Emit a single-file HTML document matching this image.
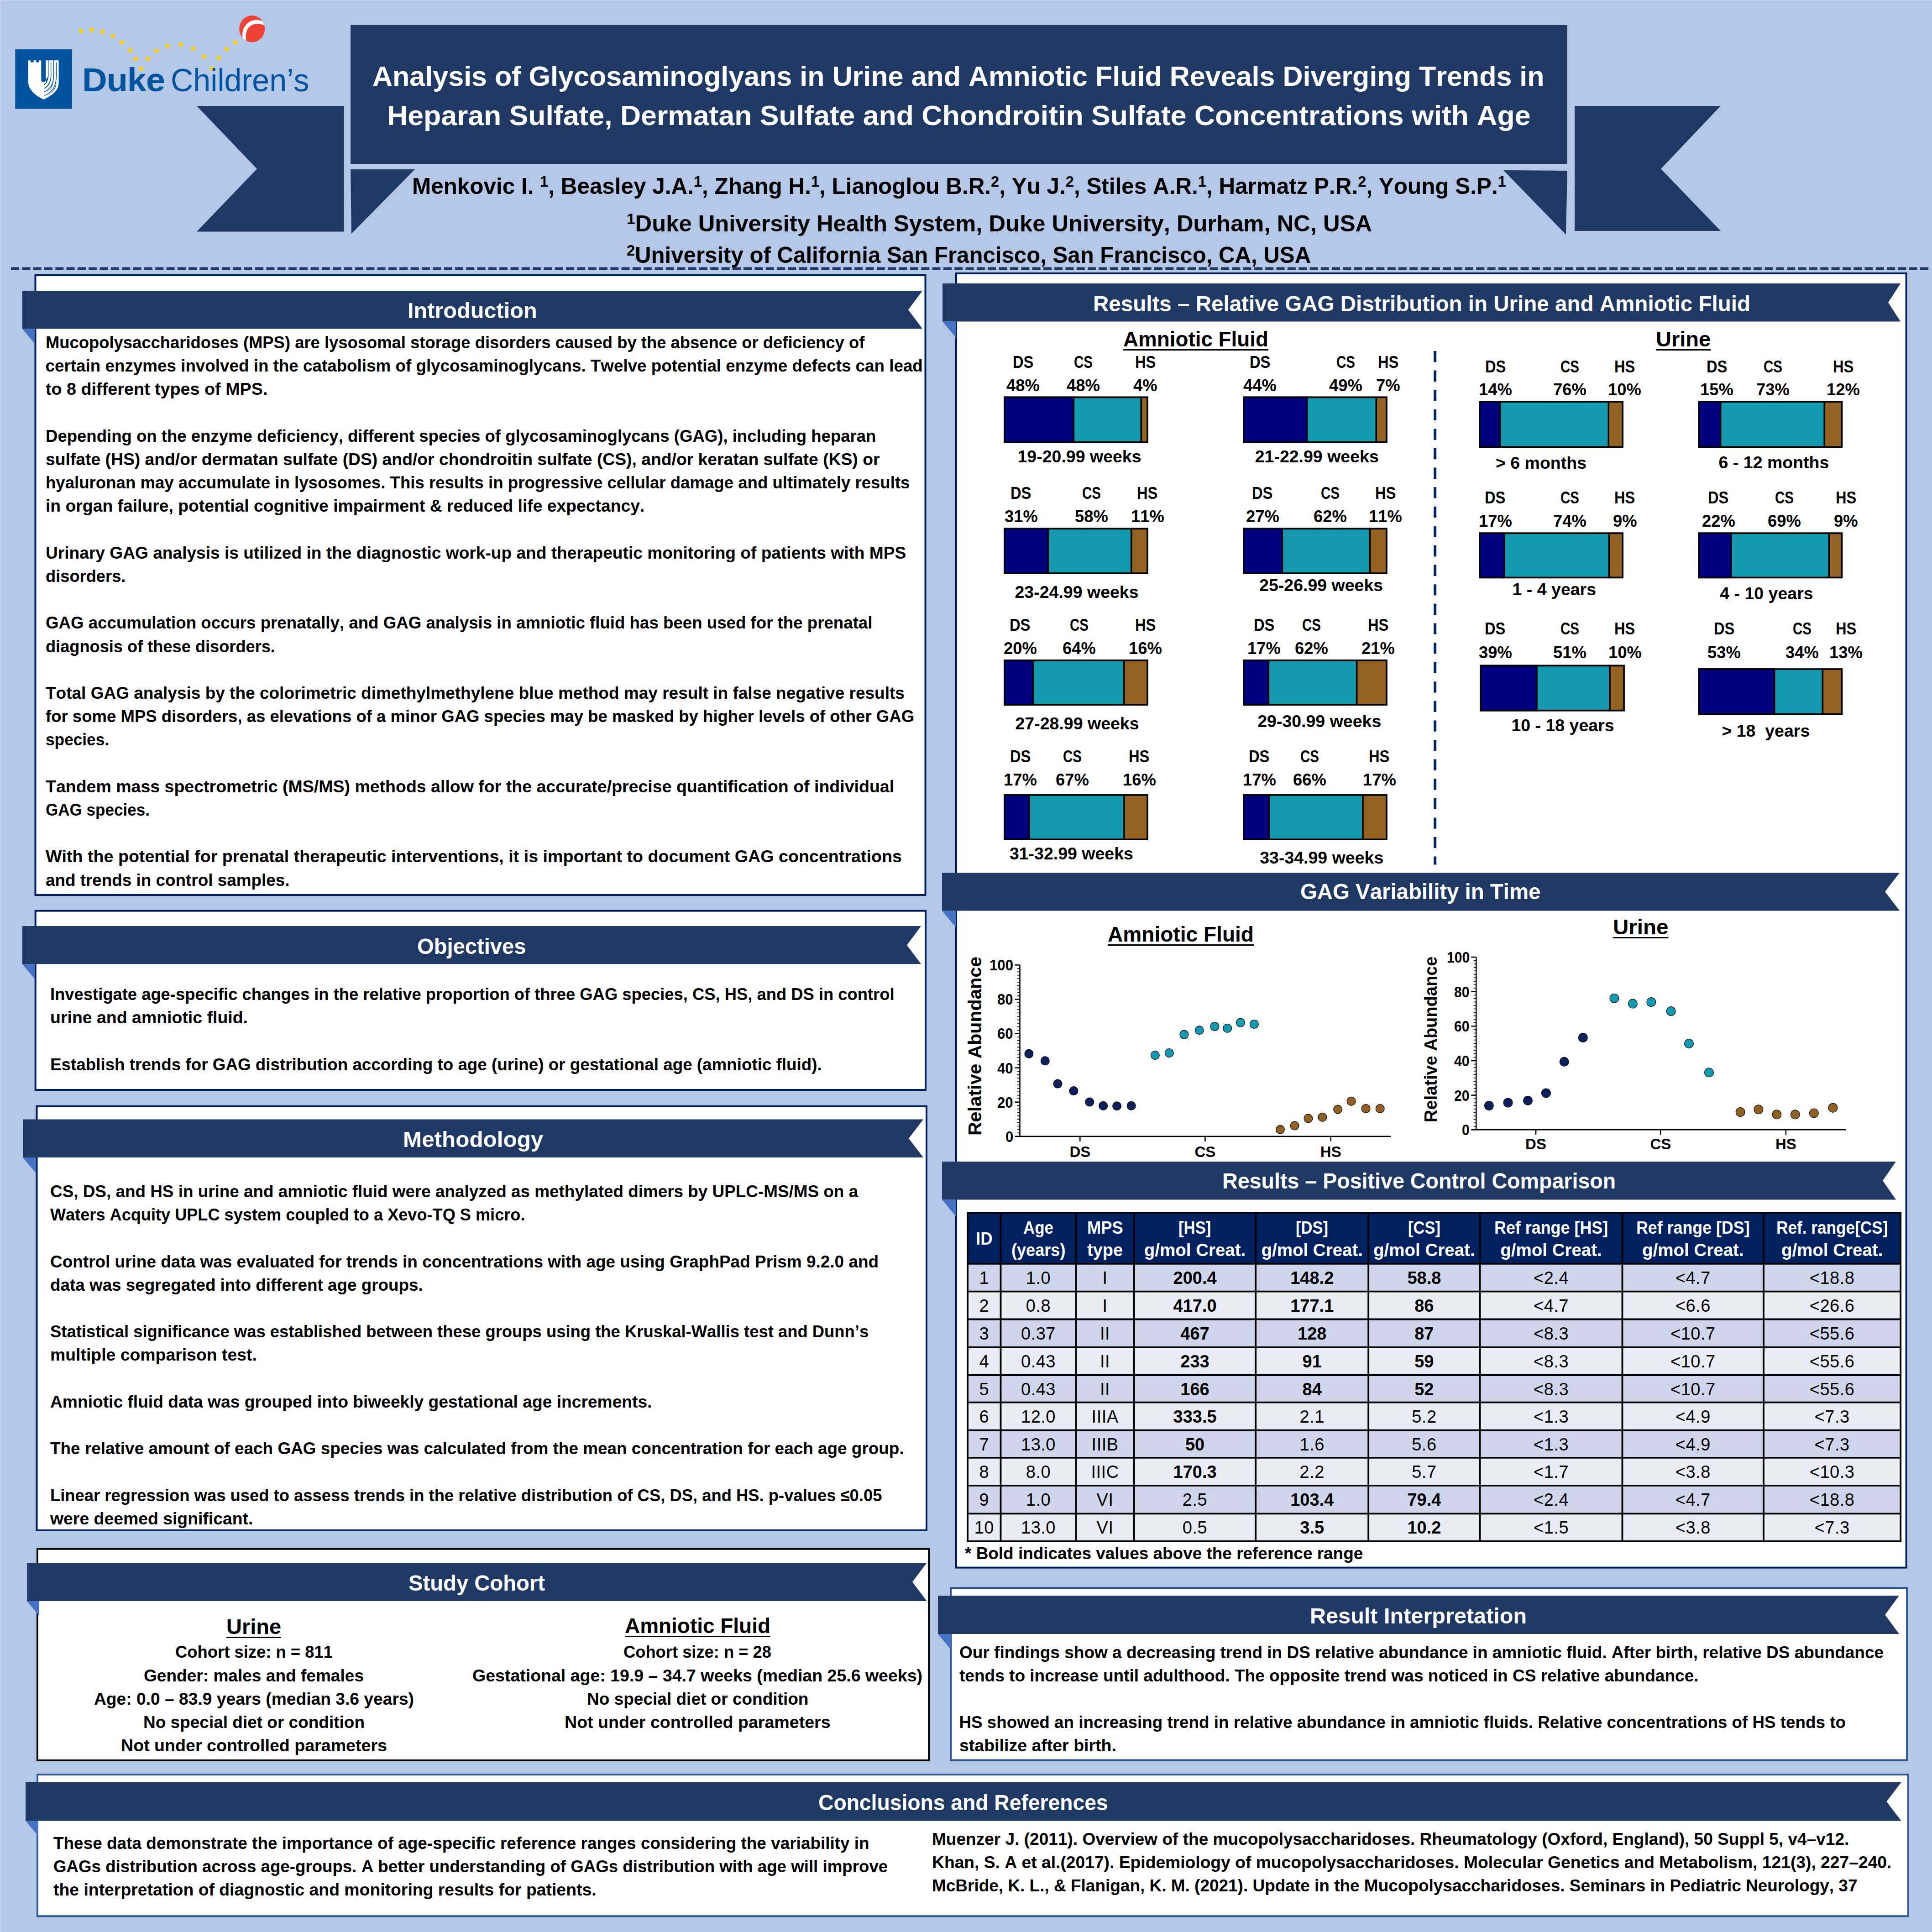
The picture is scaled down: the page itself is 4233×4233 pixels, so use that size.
<!DOCTYPE html>
<html><head><meta charset="utf-8"><title>Poster</title><style>
html,body{margin:0;padding:0;width:4233px;height:4233px;overflow:hidden;background:#b4c7e7}
body{position:relative;font-family:"Liberation Sans", sans-serif;font-kerning:none;font-variant-ligatures:none}
body>div{position:absolute;white-space:pre}
u{text-decoration-thickness:0.065em;text-underline-offset:0.12em}
</style></head><body>
<svg width="4233" height="4233" viewBox="0 0 4233 4233" style="position:absolute;left:0;top:0"><rect x="0.0" y="0.0" width="4233.0" height="1.0" fill="#d0dbf1"/><rect x="0.0" y="0.0" width="1.0" height="4233.0" fill="#d0dbf1"/><rect x="768.0" y="55.0" width="2666.0" height="304.0" fill="#203864"/><polygon points="431.0,232.0 753.5,232.0 753.5,507.5 431.0,507.5 563.0,370.0" fill="#203864"/><polygon points="768.0,371.0 909.0,371.0 770.0,512.0" fill="#203864"/><polygon points="3450.0,232.0 3770.0,232.0 3639.0,370.0 3770.0,506.0 3450.0,506.0" fill="#203864"/><polygon points="3294.0,373.0 3434.0,374.0 3431.0,514.0" fill="#203864"/><line x1="24" y1="588.3" x2="4225.3" y2="588.3" stroke="#203864" stroke-width="5.8" stroke-dasharray="18.1 6.22"/><rect x="77.5" y="603.0" width="1950.0" height="1358.0" fill="#fff" stroke="#002060" stroke-width="4.0"/><polygon points="48.8,637.1 2021.0,637.1 1990.0,678.7 2021.0,720.3 48.8,720.3" fill="#203864"/><polygon points="48.8,720.3 75.5,720.3 75.5,752.3" fill="#4472c4"/><rect x="77.7" y="1995.6" width="1950.3" height="392.4" fill="#fff" stroke="#002060" stroke-width="4.0"/><polygon points="48.8,2029.0 2018.0,2029.0 1987.0,2070.7 2018.0,2112.3 48.8,2112.3" fill="#203864"/><polygon points="48.8,2112.3 75.7,2112.3 75.7,2144.6" fill="#4472c4"/><rect x="80.5" y="2423.7" width="1949.5" height="929.3" fill="#fff" stroke="#002060" stroke-width="4.0"/><polygon points="50.0,2452.5 2023.0,2452.5 1991.0,2494.2 2023.0,2536.0 50.0,2536.0" fill="#203864"/><polygon points="50.0,2536.0 78.5,2536.0 78.5,2570.2" fill="#4472c4"/><rect x="81.8" y="3393.8" width="1953.3" height="463.0" fill="#fff" stroke="#000" stroke-width="3.7"/><polygon points="59.0,3424.0 2030.6,3424.0 1999.0,3466.0 2030.6,3508.0 59.0,3508.0" fill="#203864"/><polygon points="59.0,3508.0 86.0,3508.0 86.0,3540.4" fill="#4472c4"/><rect x="82.0" y="3888.0" width="4099.0" height="310.3" fill="#fff" stroke="#2f5597" stroke-width="4.0"/><polygon points="56.0,3905.0 4165.5,3905.0 4133.4,3947.2 4165.5,3989.5 56.0,3989.5" fill="#203864"/><polygon points="56.0,3989.5 83.5,3989.5 83.5,4022.5" fill="#4472c4"/><rect x="2095.0" y="599.0" width="2081.6" height="2835.6" fill="#fff" stroke="#002060" stroke-width="4.0"/><polygon points="2065.0,621.0 4164.0,621.0 4137.0,662.8 4164.0,704.5 2065.0,704.5" fill="#203864"/><polygon points="2065.0,704.5 2094.0,704.5 2094.0,739.3" fill="#4472c4"/><polygon points="2064.0,1912.0 4162.0,1912.0 4130.0,1953.8 4162.0,1995.5 2064.0,1995.5" fill="#203864"/><polygon points="2064.0,1995.5 2094.0,1995.5 2094.0,2031.5" fill="#4472c4"/><polygon points="2064.0,2545.0 4154.0,2545.0 4125.0,2586.8 4154.0,2628.5 2064.0,2628.5" fill="#203864"/><polygon points="2064.0,2628.5 2094.0,2628.5 2094.0,2664.5" fill="#4472c4"/><rect x="2083.3" y="3479.2" width="2094.7" height="377.3" fill="#fff" stroke="#2f5597" stroke-width="4.0"/><polygon points="2055.0,3496.0 4161.0,3496.0 4130.0,3538.0 4161.0,3580.0 2055.0,3580.0" fill="#203864"/><polygon points="2055.0,3580.0 2083.0,3580.0 2083.0,3613.6" fill="#4472c4"/><rect x="2199.0" y="868.6" width="153.4" height="101.9" fill="#000080"/><rect x="2352.4" y="868.6" width="147.9" height="101.9" fill="#1399b0"/><rect x="2500.3" y="868.6" width="15.5" height="101.9" fill="#946223"/><rect x="2200.8" y="870.4" width="313.2" height="98.3" fill="none" stroke="#000" stroke-width="3.6"/><line x1="2352.4" y1="868.6" x2="2352.4" y2="970.5" stroke="#000" stroke-width="3.6"/><line x1="2500.3" y1="868.6" x2="2500.3" y2="970.5" stroke="#000" stroke-width="3.6"/><rect x="2723.0" y="868.6" width="140.6" height="101.9" fill="#000080"/><rect x="2863.6" y="868.6" width="151.7" height="101.9" fill="#1399b0"/><rect x="3015.3" y="868.6" width="24.4" height="101.9" fill="#946223"/><rect x="2724.8" y="870.4" width="313.1" height="98.3" fill="none" stroke="#000" stroke-width="3.6"/><line x1="2863.6" y1="868.6" x2="2863.6" y2="970.5" stroke="#000" stroke-width="3.6"/><line x1="3015.3" y1="868.6" x2="3015.3" y2="970.5" stroke="#000" stroke-width="3.6"/><rect x="2199.0" y="1156.6" width="97.5" height="101.2" fill="#000080"/><rect x="2296.5" y="1156.6" width="182.2" height="101.2" fill="#1399b0"/><rect x="2478.7" y="1156.6" width="37.1" height="101.2" fill="#946223"/><rect x="2200.8" y="1158.4" width="313.2" height="97.6" fill="none" stroke="#000" stroke-width="3.6"/><line x1="2296.5" y1="1156.6" x2="2296.5" y2="1257.8" stroke="#000" stroke-width="3.6"/><line x1="2478.7" y1="1156.6" x2="2478.7" y2="1257.8" stroke="#000" stroke-width="3.6"/><rect x="2723.0" y="1156.6" width="86.3" height="101.2" fill="#000080"/><rect x="2809.3" y="1156.6" width="192.2" height="101.2" fill="#1399b0"/><rect x="3001.5" y="1156.6" width="38.2" height="101.2" fill="#946223"/><rect x="2724.8" y="1158.4" width="313.1" height="97.6" fill="none" stroke="#000" stroke-width="3.6"/><line x1="2809.3" y1="1156.6" x2="2809.3" y2="1257.8" stroke="#000" stroke-width="3.6"/><line x1="3001.5" y1="1156.6" x2="3001.5" y2="1257.8" stroke="#000" stroke-width="3.6"/><rect x="2199.0" y="1445.0" width="64.3" height="100.8" fill="#000080"/><rect x="2263.3" y="1445.0" width="199.3" height="100.8" fill="#1399b0"/><rect x="2462.6" y="1445.0" width="53.2" height="100.8" fill="#946223"/><rect x="2200.8" y="1446.8" width="313.2" height="97.2" fill="none" stroke="#000" stroke-width="3.6"/><line x1="2263.3" y1="1445.0" x2="2263.3" y2="1545.8" stroke="#000" stroke-width="3.6"/><line x1="2462.6" y1="1445.0" x2="2462.6" y2="1545.8" stroke="#000" stroke-width="3.6"/><rect x="2723.0" y="1445.0" width="56.4" height="100.8" fill="#000080"/><rect x="2779.4" y="1445.0" width="193.3" height="100.8" fill="#1399b0"/><rect x="2972.7" y="1445.0" width="67.0" height="100.8" fill="#946223"/><rect x="2724.8" y="1446.8" width="313.1" height="97.2" fill="none" stroke="#000" stroke-width="3.6"/><line x1="2779.4" y1="1445.0" x2="2779.4" y2="1545.8" stroke="#000" stroke-width="3.6"/><line x1="2972.7" y1="1445.0" x2="2972.7" y2="1545.8" stroke="#000" stroke-width="3.6"/><rect x="2199.0" y="1740.2" width="56.0" height="100.8" fill="#000080"/><rect x="2255.0" y="1740.2" width="208.0" height="100.8" fill="#1399b0"/><rect x="2463.0" y="1740.2" width="52.8" height="100.8" fill="#946223"/><rect x="2200.8" y="1742.0" width="313.2" height="97.2" fill="none" stroke="#000" stroke-width="3.6"/><line x1="2255.0" y1="1740.2" x2="2255.0" y2="1841.0" stroke="#000" stroke-width="3.6"/><line x1="2463.0" y1="1740.2" x2="2463.0" y2="1841.0" stroke="#000" stroke-width="3.6"/><rect x="2723.0" y="1740.2" width="57.5" height="100.8" fill="#000080"/><rect x="2780.5" y="1740.2" width="205.5" height="100.8" fill="#1399b0"/><rect x="2986.0" y="1740.2" width="53.7" height="100.8" fill="#946223"/><rect x="2724.8" y="1742.0" width="313.1" height="97.2" fill="none" stroke="#000" stroke-width="3.6"/><line x1="2780.5" y1="1740.2" x2="2780.5" y2="1841.0" stroke="#000" stroke-width="3.6"/><line x1="2986.0" y1="1740.2" x2="2986.0" y2="1841.0" stroke="#000" stroke-width="3.6"/><rect x="3240.2" y="878.5" width="46.0" height="102.5" fill="#000080"/><rect x="3286.2" y="878.5" width="238.1" height="102.5" fill="#1399b0"/><rect x="3524.3" y="878.5" width="32.7" height="102.5" fill="#946223"/><rect x="3242.0" y="880.3" width="313.2" height="98.9" fill="none" stroke="#000" stroke-width="3.6"/><line x1="3286.2" y1="878.5" x2="3286.2" y2="981.0" stroke="#000" stroke-width="3.6"/><line x1="3524.3" y1="878.5" x2="3524.3" y2="981.0" stroke="#000" stroke-width="3.6"/><rect x="3720.4" y="878.5" width="49.3" height="102.5" fill="#000080"/><rect x="3769.7" y="878.5" width="227.6" height="102.5" fill="#1399b0"/><rect x="3997.3" y="878.5" width="39.9" height="102.5" fill="#946223"/><rect x="3722.2" y="880.3" width="313.2" height="98.9" fill="none" stroke="#000" stroke-width="3.6"/><line x1="3769.7" y1="878.5" x2="3769.7" y2="981.0" stroke="#000" stroke-width="3.6"/><line x1="3997.3" y1="878.5" x2="3997.3" y2="981.0" stroke="#000" stroke-width="3.6"/><rect x="3240.2" y="1166.5" width="55.8" height="100.7" fill="#000080"/><rect x="3296.0" y="1166.5" width="229.4" height="100.7" fill="#1399b0"/><rect x="3525.4" y="1166.5" width="31.6" height="100.7" fill="#946223"/><rect x="3242.0" y="1168.3" width="313.2" height="97.1" fill="none" stroke="#000" stroke-width="3.6"/><line x1="3296.0" y1="1166.5" x2="3296.0" y2="1267.2" stroke="#000" stroke-width="3.6"/><line x1="3525.4" y1="1166.5" x2="3525.4" y2="1267.2" stroke="#000" stroke-width="3.6"/><rect x="3720.4" y="1166.5" width="72.6" height="100.7" fill="#000080"/><rect x="3793.0" y="1166.5" width="214.3" height="100.7" fill="#1399b0"/><rect x="4007.3" y="1166.5" width="29.9" height="100.7" fill="#946223"/><rect x="3722.2" y="1168.3" width="313.2" height="97.1" fill="none" stroke="#000" stroke-width="3.6"/><line x1="3793.0" y1="1166.5" x2="3793.0" y2="1267.2" stroke="#000" stroke-width="3.6"/><line x1="4007.3" y1="1166.5" x2="4007.3" y2="1267.2" stroke="#000" stroke-width="3.6"/><rect x="3242.4" y="1456.6" width="124.6" height="101.9" fill="#000080"/><rect x="3367.0" y="1456.6" width="160.0" height="101.9" fill="#1399b0"/><rect x="3527.0" y="1456.6" width="32.8" height="101.9" fill="#946223"/><rect x="3244.2" y="1458.4" width="313.8" height="98.3" fill="none" stroke="#000" stroke-width="3.6"/><line x1="3367.0" y1="1456.6" x2="3367.0" y2="1558.5" stroke="#000" stroke-width="3.6"/><line x1="3527.0" y1="1456.6" x2="3527.0" y2="1558.5" stroke="#000" stroke-width="3.6"/><rect x="3720.4" y="1464.3" width="167.2" height="101.9" fill="#000080"/><rect x="3887.6" y="1464.3" width="105.8" height="101.9" fill="#1399b0"/><rect x="3993.4" y="1464.3" width="43.8" height="101.9" fill="#946223"/><rect x="3722.2" y="1466.1" width="313.2" height="98.3" fill="none" stroke="#000" stroke-width="3.6"/><line x1="3887.6" y1="1464.3" x2="3887.6" y2="1566.2" stroke="#000" stroke-width="3.6"/><line x1="3993.4" y1="1464.3" x2="3993.4" y2="1566.2" stroke="#000" stroke-width="3.6"/><line x1="3144.2" y1="769" x2="3144.2" y2="1894.4" stroke="#002060" stroke-width="5.9" stroke-dasharray="24.3 18.3"/><line x1="2234.5" y1="2114.3" x2="2234.5" y2="2491.1" stroke="#000" stroke-width="2.6"/><line x1="2233.2" y1="2489.8" x2="3047.5" y2="2489.8" stroke="#000" stroke-width="2.6"/><line x1="2223.5" y1="2489.8" x2="2234.5" y2="2489.8" stroke="#000" stroke-width="2.6"/><line x1="2229.0" y1="2482.3" x2="2234.5" y2="2482.3" stroke="#000" stroke-width="1.6"/><line x1="2229.0" y1="2474.8" x2="2234.5" y2="2474.8" stroke="#000" stroke-width="1.6"/><line x1="2229.0" y1="2467.3" x2="2234.5" y2="2467.3" stroke="#000" stroke-width="1.6"/><line x1="2229.0" y1="2459.8" x2="2234.5" y2="2459.8" stroke="#000" stroke-width="1.6"/><line x1="2229.0" y1="2452.2" x2="2234.5" y2="2452.2" stroke="#000" stroke-width="1.6"/><line x1="2229.0" y1="2444.7" x2="2234.5" y2="2444.7" stroke="#000" stroke-width="1.6"/><line x1="2229.0" y1="2437.2" x2="2234.5" y2="2437.2" stroke="#000" stroke-width="1.6"/><line x1="2229.0" y1="2429.7" x2="2234.5" y2="2429.7" stroke="#000" stroke-width="1.6"/><line x1="2229.0" y1="2422.2" x2="2234.5" y2="2422.2" stroke="#000" stroke-width="1.6"/><line x1="2223.5" y1="2414.7" x2="2234.5" y2="2414.7" stroke="#000" stroke-width="2.6"/><line x1="2229.0" y1="2407.2" x2="2234.5" y2="2407.2" stroke="#000" stroke-width="1.6"/><line x1="2229.0" y1="2399.7" x2="2234.5" y2="2399.7" stroke="#000" stroke-width="1.6"/><line x1="2229.0" y1="2392.2" x2="2234.5" y2="2392.2" stroke="#000" stroke-width="1.6"/><line x1="2229.0" y1="2384.7" x2="2234.5" y2="2384.7" stroke="#000" stroke-width="1.6"/><line x1="2229.0" y1="2377.2" x2="2234.5" y2="2377.2" stroke="#000" stroke-width="1.6"/><line x1="2229.0" y1="2369.6" x2="2234.5" y2="2369.6" stroke="#000" stroke-width="1.6"/><line x1="2229.0" y1="2362.1" x2="2234.5" y2="2362.1" stroke="#000" stroke-width="1.6"/><line x1="2229.0" y1="2354.6" x2="2234.5" y2="2354.6" stroke="#000" stroke-width="1.6"/><line x1="2229.0" y1="2347.1" x2="2234.5" y2="2347.1" stroke="#000" stroke-width="1.6"/><line x1="2223.5" y1="2339.6" x2="2234.5" y2="2339.6" stroke="#000" stroke-width="2.6"/><line x1="2229.0" y1="2332.1" x2="2234.5" y2="2332.1" stroke="#000" stroke-width="1.6"/><line x1="2229.0" y1="2324.6" x2="2234.5" y2="2324.6" stroke="#000" stroke-width="1.6"/><line x1="2229.0" y1="2317.1" x2="2234.5" y2="2317.1" stroke="#000" stroke-width="1.6"/><line x1="2229.0" y1="2309.6" x2="2234.5" y2="2309.6" stroke="#000" stroke-width="1.6"/><line x1="2229.0" y1="2302.1" x2="2234.5" y2="2302.1" stroke="#000" stroke-width="1.6"/><line x1="2229.0" y1="2294.5" x2="2234.5" y2="2294.5" stroke="#000" stroke-width="1.6"/><line x1="2229.0" y1="2287.0" x2="2234.5" y2="2287.0" stroke="#000" stroke-width="1.6"/><line x1="2229.0" y1="2279.5" x2="2234.5" y2="2279.5" stroke="#000" stroke-width="1.6"/><line x1="2229.0" y1="2272.0" x2="2234.5" y2="2272.0" stroke="#000" stroke-width="1.6"/><line x1="2223.5" y1="2264.5" x2="2234.5" y2="2264.5" stroke="#000" stroke-width="2.6"/><line x1="2229.0" y1="2257.0" x2="2234.5" y2="2257.0" stroke="#000" stroke-width="1.6"/><line x1="2229.0" y1="2249.5" x2="2234.5" y2="2249.5" stroke="#000" stroke-width="1.6"/><line x1="2229.0" y1="2242.0" x2="2234.5" y2="2242.0" stroke="#000" stroke-width="1.6"/><line x1="2229.0" y1="2234.5" x2="2234.5" y2="2234.5" stroke="#000" stroke-width="1.6"/><line x1="2229.0" y1="2227.0" x2="2234.5" y2="2227.0" stroke="#000" stroke-width="1.6"/><line x1="2229.0" y1="2219.4" x2="2234.5" y2="2219.4" stroke="#000" stroke-width="1.6"/><line x1="2229.0" y1="2211.9" x2="2234.5" y2="2211.9" stroke="#000" stroke-width="1.6"/><line x1="2229.0" y1="2204.4" x2="2234.5" y2="2204.4" stroke="#000" stroke-width="1.6"/><line x1="2229.0" y1="2196.9" x2="2234.5" y2="2196.9" stroke="#000" stroke-width="1.6"/><line x1="2223.5" y1="2189.4" x2="2234.5" y2="2189.4" stroke="#000" stroke-width="2.6"/><line x1="2229.0" y1="2181.9" x2="2234.5" y2="2181.9" stroke="#000" stroke-width="1.6"/><line x1="2229.0" y1="2174.4" x2="2234.5" y2="2174.4" stroke="#000" stroke-width="1.6"/><line x1="2229.0" y1="2166.9" x2="2234.5" y2="2166.9" stroke="#000" stroke-width="1.6"/><line x1="2229.0" y1="2159.4" x2="2234.5" y2="2159.4" stroke="#000" stroke-width="1.6"/><line x1="2229.0" y1="2151.9" x2="2234.5" y2="2151.9" stroke="#000" stroke-width="1.6"/><line x1="2229.0" y1="2144.3" x2="2234.5" y2="2144.3" stroke="#000" stroke-width="1.6"/><line x1="2229.0" y1="2136.8" x2="2234.5" y2="2136.8" stroke="#000" stroke-width="1.6"/><line x1="2229.0" y1="2129.3" x2="2234.5" y2="2129.3" stroke="#000" stroke-width="1.6"/><line x1="2229.0" y1="2121.8" x2="2234.5" y2="2121.8" stroke="#000" stroke-width="1.6"/><line x1="2223.5" y1="2114.3" x2="2234.5" y2="2114.3" stroke="#000" stroke-width="2.6"/><line x1="2366.3" y1="2489.8" x2="2366.3" y2="2500.8" stroke="#000" stroke-width="2.6"/><line x1="2640.4" y1="2489.8" x2="2640.4" y2="2500.8" stroke="#000" stroke-width="2.6"/><line x1="2915.7" y1="2489.8" x2="2915.7" y2="2500.8" stroke="#000" stroke-width="2.6"/><circle cx="2254.4" cy="2308.7" r="9.4" fill="#0a1f5c" stroke="#000" stroke-width="1.2"/><circle cx="2289.8" cy="2324.2" r="9.4" fill="#0a1f5c" stroke="#000" stroke-width="1.2"/><circle cx="2317.5" cy="2374.6" r="9.4" fill="#0a1f5c" stroke="#000" stroke-width="1.2"/><circle cx="2352.4" cy="2390.1" r="9.4" fill="#0a1f5c" stroke="#000" stroke-width="1.2"/><circle cx="2387.3" cy="2414.5" r="9.4" fill="#0a1f5c" stroke="#000" stroke-width="1.2"/><circle cx="2417.2" cy="2422.8" r="9.4" fill="#0a1f5c" stroke="#000" stroke-width="1.2"/><circle cx="2447.1" cy="2423.3" r="9.4" fill="#0a1f5c" stroke="#000" stroke-width="1.2"/><circle cx="2478.7" cy="2422.8" r="9.4" fill="#0a1f5c" stroke="#000" stroke-width="1.2"/><circle cx="2530.8" cy="2312.0" r="9.4" fill="#1399b0" stroke="#000" stroke-width="1.2"/><circle cx="2561.8" cy="2307.0" r="9.4" fill="#1399b0" stroke="#000" stroke-width="1.2"/><circle cx="2594.4" cy="2266.6" r="9.4" fill="#1399b0" stroke="#000" stroke-width="1.2"/><circle cx="2627.7" cy="2257.2" r="9.4" fill="#1399b0" stroke="#000" stroke-width="1.2"/><circle cx="2661.5" cy="2248.9" r="9.4" fill="#1399b0" stroke="#000" stroke-width="1.2"/><circle cx="2689.2" cy="2252.8" r="9.4" fill="#1399b0" stroke="#000" stroke-width="1.2"/><circle cx="2717.9" cy="2240.6" r="9.4" fill="#1399b0" stroke="#000" stroke-width="1.2"/><circle cx="2747.9" cy="2243.9" r="9.4" fill="#1399b0" stroke="#000" stroke-width="1.2"/><circle cx="2804.9" cy="2474.8" r="9.4" fill="#8f6122" stroke="#000" stroke-width="1.2"/><circle cx="2836.5" cy="2466.5" r="9.4" fill="#8f6122" stroke="#000" stroke-width="1.2"/><circle cx="2866.4" cy="2450.5" r="9.4" fill="#8f6122" stroke="#000" stroke-width="1.2"/><circle cx="2897.4" cy="2447.7" r="9.4" fill="#8f6122" stroke="#000" stroke-width="1.2"/><circle cx="2931.2" cy="2430.5" r="9.4" fill="#8f6122" stroke="#000" stroke-width="1.2"/><circle cx="2960.5" cy="2412.8" r="9.4" fill="#8f6122" stroke="#000" stroke-width="1.2"/><circle cx="2992.6" cy="2428.9" r="9.4" fill="#8f6122" stroke="#000" stroke-width="1.2"/><circle cx="3023.7" cy="2428.9" r="9.4" fill="#8f6122" stroke="#000" stroke-width="1.2"/><line x1="3234.3" y1="2097.0" x2="3234.3" y2="2476.6" stroke="#000" stroke-width="2.6"/><line x1="3233.0" y1="2475.3" x2="4044.2" y2="2475.3" stroke="#000" stroke-width="2.6"/><line x1="3223.3" y1="2475.3" x2="3234.3" y2="2475.3" stroke="#000" stroke-width="2.6"/><line x1="3228.8" y1="2467.7" x2="3234.3" y2="2467.7" stroke="#000" stroke-width="1.6"/><line x1="3228.8" y1="2460.2" x2="3234.3" y2="2460.2" stroke="#000" stroke-width="1.6"/><line x1="3228.8" y1="2452.6" x2="3234.3" y2="2452.6" stroke="#000" stroke-width="1.6"/><line x1="3228.8" y1="2445.0" x2="3234.3" y2="2445.0" stroke="#000" stroke-width="1.6"/><line x1="3228.8" y1="2437.5" x2="3234.3" y2="2437.5" stroke="#000" stroke-width="1.6"/><line x1="3228.8" y1="2429.9" x2="3234.3" y2="2429.9" stroke="#000" stroke-width="1.6"/><line x1="3228.8" y1="2422.3" x2="3234.3" y2="2422.3" stroke="#000" stroke-width="1.6"/><line x1="3228.8" y1="2414.8" x2="3234.3" y2="2414.8" stroke="#000" stroke-width="1.6"/><line x1="3228.8" y1="2407.2" x2="3234.3" y2="2407.2" stroke="#000" stroke-width="1.6"/><line x1="3223.3" y1="2399.6" x2="3234.3" y2="2399.6" stroke="#000" stroke-width="2.6"/><line x1="3228.8" y1="2392.1" x2="3234.3" y2="2392.1" stroke="#000" stroke-width="1.6"/><line x1="3228.8" y1="2384.5" x2="3234.3" y2="2384.5" stroke="#000" stroke-width="1.6"/><line x1="3228.8" y1="2376.9" x2="3234.3" y2="2376.9" stroke="#000" stroke-width="1.6"/><line x1="3228.8" y1="2369.4" x2="3234.3" y2="2369.4" stroke="#000" stroke-width="1.6"/><line x1="3228.8" y1="2361.8" x2="3234.3" y2="2361.8" stroke="#000" stroke-width="1.6"/><line x1="3228.8" y1="2354.2" x2="3234.3" y2="2354.2" stroke="#000" stroke-width="1.6"/><line x1="3228.8" y1="2346.7" x2="3234.3" y2="2346.7" stroke="#000" stroke-width="1.6"/><line x1="3228.8" y1="2339.1" x2="3234.3" y2="2339.1" stroke="#000" stroke-width="1.6"/><line x1="3228.8" y1="2331.5" x2="3234.3" y2="2331.5" stroke="#000" stroke-width="1.6"/><line x1="3223.3" y1="2324.0" x2="3234.3" y2="2324.0" stroke="#000" stroke-width="2.6"/><line x1="3228.8" y1="2316.4" x2="3234.3" y2="2316.4" stroke="#000" stroke-width="1.6"/><line x1="3228.8" y1="2308.8" x2="3234.3" y2="2308.8" stroke="#000" stroke-width="1.6"/><line x1="3228.8" y1="2301.3" x2="3234.3" y2="2301.3" stroke="#000" stroke-width="1.6"/><line x1="3228.8" y1="2293.7" x2="3234.3" y2="2293.7" stroke="#000" stroke-width="1.6"/><line x1="3228.8" y1="2286.2" x2="3234.3" y2="2286.2" stroke="#000" stroke-width="1.6"/><line x1="3228.8" y1="2278.6" x2="3234.3" y2="2278.6" stroke="#000" stroke-width="1.6"/><line x1="3228.8" y1="2271.0" x2="3234.3" y2="2271.0" stroke="#000" stroke-width="1.6"/><line x1="3228.8" y1="2263.5" x2="3234.3" y2="2263.5" stroke="#000" stroke-width="1.6"/><line x1="3228.8" y1="2255.9" x2="3234.3" y2="2255.9" stroke="#000" stroke-width="1.6"/><line x1="3223.3" y1="2248.3" x2="3234.3" y2="2248.3" stroke="#000" stroke-width="2.6"/><line x1="3228.8" y1="2240.8" x2="3234.3" y2="2240.8" stroke="#000" stroke-width="1.6"/><line x1="3228.8" y1="2233.2" x2="3234.3" y2="2233.2" stroke="#000" stroke-width="1.6"/><line x1="3228.8" y1="2225.6" x2="3234.3" y2="2225.6" stroke="#000" stroke-width="1.6"/><line x1="3228.8" y1="2218.1" x2="3234.3" y2="2218.1" stroke="#000" stroke-width="1.6"/><line x1="3228.8" y1="2210.5" x2="3234.3" y2="2210.5" stroke="#000" stroke-width="1.6"/><line x1="3228.8" y1="2202.9" x2="3234.3" y2="2202.9" stroke="#000" stroke-width="1.6"/><line x1="3228.8" y1="2195.4" x2="3234.3" y2="2195.4" stroke="#000" stroke-width="1.6"/><line x1="3228.8" y1="2187.8" x2="3234.3" y2="2187.8" stroke="#000" stroke-width="1.6"/><line x1="3228.8" y1="2180.2" x2="3234.3" y2="2180.2" stroke="#000" stroke-width="1.6"/><line x1="3223.3" y1="2172.7" x2="3234.3" y2="2172.7" stroke="#000" stroke-width="2.6"/><line x1="3228.8" y1="2165.1" x2="3234.3" y2="2165.1" stroke="#000" stroke-width="1.6"/><line x1="3228.8" y1="2157.5" x2="3234.3" y2="2157.5" stroke="#000" stroke-width="1.6"/><line x1="3228.8" y1="2150.0" x2="3234.3" y2="2150.0" stroke="#000" stroke-width="1.6"/><line x1="3228.8" y1="2142.4" x2="3234.3" y2="2142.4" stroke="#000" stroke-width="1.6"/><line x1="3228.8" y1="2134.8" x2="3234.3" y2="2134.8" stroke="#000" stroke-width="1.6"/><line x1="3228.8" y1="2127.3" x2="3234.3" y2="2127.3" stroke="#000" stroke-width="1.6"/><line x1="3228.8" y1="2119.7" x2="3234.3" y2="2119.7" stroke="#000" stroke-width="1.6"/><line x1="3228.8" y1="2112.1" x2="3234.3" y2="2112.1" stroke="#000" stroke-width="1.6"/><line x1="3228.8" y1="2104.6" x2="3234.3" y2="2104.6" stroke="#000" stroke-width="1.6"/><line x1="3223.3" y1="2097.0" x2="3234.3" y2="2097.0" stroke="#000" stroke-width="2.6"/><line x1="3365.0" y1="2475.3" x2="3365.0" y2="2486.3" stroke="#000" stroke-width="2.6"/><line x1="3638.4" y1="2475.3" x2="3638.4" y2="2486.3" stroke="#000" stroke-width="2.6"/><line x1="3912.8" y1="2475.3" x2="3912.8" y2="2486.3" stroke="#000" stroke-width="2.6"/><circle cx="3262.4" cy="2422.5" r="9.9" fill="#0a1f5c" stroke="#000" stroke-width="1.2"/><circle cx="3304.1" cy="2416.0" r="9.9" fill="#0a1f5c" stroke="#000" stroke-width="1.2"/><circle cx="3347.5" cy="2411.3" r="9.9" fill="#0a1f5c" stroke="#000" stroke-width="1.2"/><circle cx="3387.4" cy="2394.9" r="9.9" fill="#0a1f5c" stroke="#000" stroke-width="1.2"/><circle cx="3427.2" cy="2326.3" r="9.9" fill="#0a1f5c" stroke="#000" stroke-width="1.2"/><circle cx="3468.3" cy="2273.5" r="9.9" fill="#0a1f5c" stroke="#000" stroke-width="1.2"/><circle cx="3536.9" cy="2187.3" r="9.9" fill="#1399b0" stroke="#000" stroke-width="1.2"/><circle cx="3577.4" cy="2199.1" r="9.9" fill="#1399b0" stroke="#000" stroke-width="1.2"/><circle cx="3617.8" cy="2195.5" r="9.9" fill="#1399b0" stroke="#000" stroke-width="1.2"/><circle cx="3661.2" cy="2215.5" r="9.9" fill="#1399b0" stroke="#000" stroke-width="1.2"/><circle cx="3700.5" cy="2286.4" r="9.9" fill="#1399b0" stroke="#000" stroke-width="1.2"/><circle cx="3744.5" cy="2349.8" r="9.9" fill="#1399b0" stroke="#000" stroke-width="1.2"/><circle cx="3813.1" cy="2436.6" r="9.9" fill="#8f6122" stroke="#000" stroke-width="1.2"/><circle cx="3853.0" cy="2430.7" r="9.9" fill="#8f6122" stroke="#000" stroke-width="1.2"/><circle cx="3892.9" cy="2441.8" r="9.9" fill="#8f6122" stroke="#000" stroke-width="1.2"/><circle cx="3933.3" cy="2441.8" r="9.9" fill="#8f6122" stroke="#000" stroke-width="1.2"/><circle cx="3974.4" cy="2438.9" r="9.9" fill="#8f6122" stroke="#000" stroke-width="1.2"/><circle cx="4016.0" cy="2427.2" r="9.9" fill="#8f6122" stroke="#000" stroke-width="1.2"/><rect x="2120.1" y="2657.0" width="2044.1" height="111.8" fill="#002060"/><rect x="2120.1" y="2768.8" width="2044.1" height="60.8" fill="#cfd5ea"/><rect x="2120.1" y="2829.6" width="2044.1" height="60.9" fill="#e9ebf5"/><rect x="2120.1" y="2890.5" width="2044.1" height="61.5" fill="#cfd5ea"/><rect x="2120.1" y="2952.0" width="2044.1" height="61.0" fill="#e9ebf5"/><rect x="2120.1" y="3013.0" width="2044.1" height="59.7" fill="#cfd5ea"/><rect x="2120.1" y="3072.7" width="2044.1" height="61.0" fill="#e9ebf5"/><rect x="2120.1" y="3133.7" width="2044.1" height="60.1" fill="#cfd5ea"/><rect x="2120.1" y="3193.8" width="2044.1" height="61.0" fill="#e9ebf5"/><rect x="2120.1" y="3254.8" width="2044.1" height="61.5" fill="#cfd5ea"/><rect x="2120.1" y="3316.3" width="2044.1" height="60.6" fill="#e9ebf5"/><line x1="2120.1" y1="2655.1" x2="2120.1" y2="3378.8" stroke="#000" stroke-width="3.8"/><line x1="2192.5" y1="2655.1" x2="2192.5" y2="3378.8" stroke="#000" stroke-width="3.8"/><line x1="2357.4" y1="2655.1" x2="2357.4" y2="3378.8" stroke="#000" stroke-width="3.8"/><line x1="2484.8" y1="2655.1" x2="2484.8" y2="3378.8" stroke="#000" stroke-width="3.8"/><line x1="2751.2" y1="2655.1" x2="2751.2" y2="3378.8" stroke="#000" stroke-width="3.8"/><line x1="2998.2" y1="2655.1" x2="2998.2" y2="3378.8" stroke="#000" stroke-width="3.8"/><line x1="3242.5" y1="2655.1" x2="3242.5" y2="3378.8" stroke="#000" stroke-width="3.8"/><line x1="3554.5" y1="2655.1" x2="3554.5" y2="3378.8" stroke="#000" stroke-width="3.8"/><line x1="3864.1" y1="2655.1" x2="3864.1" y2="3378.8" stroke="#000" stroke-width="3.8"/><line x1="4164.2" y1="2655.1" x2="4164.2" y2="3378.8" stroke="#000" stroke-width="3.8"/><line x1="2118.2" y1="2657.0" x2="4166.1" y2="2657.0" stroke="#000" stroke-width="3.8"/><line x1="2118.2" y1="2768.8" x2="4166.1" y2="2768.8" stroke="#000" stroke-width="3.8"/><line x1="2118.2" y1="2829.6" x2="4166.1" y2="2829.6" stroke="#000" stroke-width="3.8"/><line x1="2118.2" y1="2890.5" x2="4166.1" y2="2890.5" stroke="#000" stroke-width="3.8"/><line x1="2118.2" y1="2952.0" x2="4166.1" y2="2952.0" stroke="#000" stroke-width="3.8"/><line x1="2118.2" y1="3013.0" x2="4166.1" y2="3013.0" stroke="#000" stroke-width="3.8"/><line x1="2118.2" y1="3072.7" x2="4166.1" y2="3072.7" stroke="#000" stroke-width="3.8"/><line x1="2118.2" y1="3133.7" x2="4166.1" y2="3133.7" stroke="#000" stroke-width="3.8"/><line x1="2118.2" y1="3193.8" x2="4166.1" y2="3193.8" stroke="#000" stroke-width="3.8"/><line x1="2118.2" y1="3254.8" x2="4166.1" y2="3254.8" stroke="#000" stroke-width="3.8"/><line x1="2118.2" y1="3316.3" x2="4166.1" y2="3316.3" stroke="#000" stroke-width="3.8"/><line x1="2118.2" y1="3376.9" x2="4166.1" y2="3376.9" stroke="#000" stroke-width="3.8"/><rect x="33.3" y="108.1" width="124.4" height="130.4" fill="#00539f"/><path d="M61.8,132.3 L67.0,132.3 L67.0,136.4 L73.6,136.4 L73.6,132.3 L79.1,132.3 L79.1,136.4 L85.1,136.4 L85.1,132.3 L90.3,132.3 L90.3,174.3 Q90.3,179.6 95.2,179.6 Q100.1,179.6 100.1,174.3 L100.1,132.3 L128.6,132.3 L128.6,182.6 Q127.9,203.6 95.6,217.9 Q62.5,202.9 61.8,178.8 Z" fill="#fff"/><path d="M105.7,132.3 L105.7,167.6 Q105.0,177.7 96.3,186.7" fill="none" stroke="#00539f" stroke-width="1.4"/><path d="M111.7,136.4 L111.7,167.6 Q111.0,185.2 96.3,194.2" fill="none" stroke="#00539f" stroke-width="1.4"/><path d="M117.5,132.3 L117.5,167.6 Q116.7,192.7 96.3,201.7" fill="none" stroke="#00539f" stroke-width="1.4"/><path d="M123.5,136.4 L123.5,167.6 Q122.7,200.6 96.3,209.6" fill="none" stroke="#00539f" stroke-width="1.4"/><path d="M100.1,175.1 Q103.1,182.6 96.3,186.7 Q105.7,181.1 105.3,167.6 Z" fill="#00539f"/><path d="M110.6,171.3 Q109.8,188.6 97.1,194.2 Q111.7,189.3 111.3,167.6 Z" fill="#00539f"/><path d="M116.6,175.1 Q114.3,196.1 97.4,201.7 Q117.5,196.1 117.5,171.3 Z" fill="#00539f"/><path d="M122.6,182.6 Q119.6,203.6 97.4,209.6 Q123.5,203.6 123.5,178.8 Z" fill="#00539f"/><circle cx="177.3" cy="68.1" r="4.7" fill="#ffd200"/><circle cx="200.8" cy="65.6" r="4.7" fill="#ffd200"/><circle cx="224.3" cy="69.5" r="4.7" fill="#ffd200"/><circle cx="247.2" cy="78.7" r="4.7" fill="#ffd200"/><circle cx="267.3" cy="92.7" r="4.7" fill="#ffd200"/><circle cx="284.7" cy="110.0" r="4.7" fill="#ffd200"/><circle cx="297.5" cy="129.0" r="4.7" fill="#ffd200"/><circle cx="308.7" cy="150.2" r="4.7" fill="#ffd200"/><circle cx="323.8" cy="129.0" r="4.7" fill="#ffd200"/><circle cx="342.5" cy="111.1" r="4.7" fill="#ffd200"/><circle cx="366.8" cy="100.2" r="4.7" fill="#ffd200"/><circle cx="396.2" cy="97.7" r="4.7" fill="#ffd200"/><circle cx="423.3" cy="106.6" r="4.7" fill="#ffd200"/><circle cx="447.0" cy="124.0" r="4.7" fill="#ffd200"/><circle cx="464.7" cy="150.2" r="4.7" fill="#ffd200"/><circle cx="479.5" cy="126.5" r="4.7" fill="#ffd200"/><circle cx="496.8" cy="107.8" r="4.7" fill="#ffd200"/><circle cx="515.8" cy="92.9" r="4.7" fill="#ffd200"/><defs><clipPath id="ballclip"><ellipse cx="552.2" cy="63.3" rx="28" ry="29.3"/></clipPath></defs><ellipse cx="552.2" cy="63.3" rx="28" ry="29.3" fill="#ef4135"/><path d="M577.11,48.19 C563.52,38.48 540.62,44.30 532.66,64.88 C530.53,72.64 530.53,80.41 532.08,88.56 L540.23,94.77 C537.13,80.41 538.29,68.76 544.11,61.39 C551.88,51.29 567.41,49.74 580.99,56.34 Z" fill="#fff" clip-path="url(#ballclip)"/></svg>
<div style="left:816.0px;top:136.1px;font-size:61.50px;line-height:61.50px;font-weight:bold;color:#fff;;transform-origin:0 0;transform:scaleX(0.9925)">Analysis of Glycosaminoglyans in Urine and Amniotic Fluid Reveals Diverging Trends in</div>
<div style="left:848.0px;top:221.8px;font-size:61.50px;line-height:61.50px;font-weight:bold;color:#fff;;transform-origin:0 0;transform:scaleX(1.0170)">Heparan Sulfate, Dermatan Sulfate and Chondroitin Sulfate Concentrations with Age</div>
<div style="left:902.7px;top:383.4px;font-size:50.00px;line-height:50.00px;font-weight:bold;color:#000;;transform-origin:0 0;transform:scaleX(0.9883)">Menkovic I. <span style="font-size:0.66em;vertical-align:0.5em;line-height:0">1</span>, Beasley J.A.<span style="font-size:0.66em;vertical-align:0.5em;line-height:0">1</span>, Zhang H.<span style="font-size:0.66em;vertical-align:0.5em;line-height:0">1</span>, Lianoglou B.R.<span style="font-size:0.66em;vertical-align:0.5em;line-height:0">2</span>, Yu J.<span style="font-size:0.66em;vertical-align:0.5em;line-height:0">2</span>, Stiles A.R.<span style="font-size:0.66em;vertical-align:0.5em;line-height:0">1</span>, Harmatz P.R.<span style="font-size:0.66em;vertical-align:0.5em;line-height:0">2</span>, Young S.P.<span style="font-size:0.66em;vertical-align:0.5em;line-height:0">1</span></div>
<div style="left:1372.5px;top:464.5px;font-size:50.00px;line-height:50.00px;font-weight:bold;color:#000;;transform-origin:0 0;transform:scaleX(1.0140)"><span style="font-size:0.66em;vertical-align:0.5em;line-height:0">1</span>Duke University Health System, Duke University, Durham, NC, USA</div>
<div style="left:1372.5px;top:534.3px;font-size:50.00px;line-height:50.00px;font-weight:bold;color:#000;;transform-origin:0 0;transform:scaleX(0.9835)"><span style="font-size:0.66em;vertical-align:0.5em;line-height:0">2</span>University of California San Francisco, San Francisco, CA, USA</div>
<div style="left:180.0px;top:139.4px;font-size:72.00px;line-height:72.00px;font-weight:bold;color:#00539f;letter-spacing:-1px;transform-origin:0 0;transform:scaleX(1.0519)">Duke</div>
<div style="left:373.5px;top:140.2px;font-size:71.00px;line-height:71.00px;font-weight:normal;color:#00539f;;transform-origin:0 0;transform:scaleX(0.9614)">Children&#8217;s</div>
<div style="left:893.0px;top:656.8px;font-size:47.50px;line-height:47.50px;font-weight:bold;color:#fff;;transform-origin:0 0;transform:scaleX(1.0237)">Introduction</div>
<div style="left:914.0px;top:2049.6px;font-size:47.50px;line-height:47.50px;font-weight:bold;color:#fff;;transform-origin:0 0;transform:scaleX(0.9927)">Objectives</div>
<div style="left:882.7px;top:2472.8px;font-size:47.50px;line-height:47.50px;font-weight:bold;color:#fff;;transform-origin:0 0;transform:scaleX(1.0399)">Methodology</div>
<div style="left:895.0px;top:3445.3px;font-size:47.50px;line-height:47.50px;font-weight:bold;color:#fff;;transform-origin:0 0;transform:scaleX(0.9940)">Study Cohort</div>
<div style="left:1793.0px;top:3926.0px;font-size:47.50px;line-height:47.50px;font-weight:bold;color:#fff;;transform-origin:0 0;transform:scaleX(0.9733)">Conclusions and References</div>
<div style="left:2394.5px;top:641.8px;font-size:47.50px;line-height:47.50px;font-weight:bold;color:#fff;;transform-origin:0 0;transform:scaleX(1.0011)">Results &#8211; Relative GAG Distribution in Urine and Amniotic Fluid</div>
<div style="left:2849.2px;top:1930.1px;font-size:47.50px;line-height:47.50px;font-weight:bold;color:#fff;;transform-origin:0 0;transform:scaleX(0.9971)">GAG Variability in Time</div>
<div style="left:2677.5px;top:2563.5px;font-size:47.50px;line-height:47.50px;font-weight:bold;color:#fff;;transform-origin:0 0;transform:scaleX(0.9811)">Results &#8211; Positive Control Comparison</div>
<div style="left:2869.6px;top:3516.8px;font-size:47.50px;line-height:47.50px;font-weight:bold;color:#fff;;transform-origin:0 0;transform:scaleX(1.0230)">Result Interpretation</div>
<div style="left:99.6px;top:732.9px;font-size:36.80px;line-height:36.80px;font-weight:bold;color:#000;;transform-origin:0 0;transform:scaleX(0.9892)">Mucopolysaccharidoses (MPS) are lysosomal storage disorders caused by the absence or deficiency of</div>
<div style="left:99.6px;top:784.1px;font-size:36.80px;line-height:36.80px;font-weight:bold;color:#000;;">certain enzymes involved in the catabolism of glycosaminoglycans. Twelve potential enzyme defects can lead</div>
<div style="left:99.6px;top:835.3px;font-size:36.80px;line-height:36.80px;font-weight:bold;color:#000;;transform-origin:0 0;transform:scaleX(1.0255)">to 8 different types of MPS.</div>
<div style="left:99.6px;top:937.7px;font-size:36.80px;line-height:36.80px;font-weight:bold;color:#000;;transform-origin:0 0;transform:scaleX(0.9931)">Depending on the enzyme deficiency, different species of glycosaminoglycans (GAG), including heparan</div>
<div style="left:99.6px;top:988.9px;font-size:36.80px;line-height:36.80px;font-weight:bold;color:#000;;transform-origin:0 0;transform:scaleX(1.0134)">sulfate (HS) and/or dermatan sulfate (DS) and/or chondroitin sulfate (CS), and/or keratan sulfate (KS) or</div>
<div style="left:99.6px;top:1040.1px;font-size:36.80px;line-height:36.80px;font-weight:bold;color:#000;;transform-origin:0 0;transform:scaleX(0.9945)">hyaluronan may accumulate in lysosomes. This results in progressive cellular damage and ultimately results</div>
<div style="left:99.6px;top:1091.3px;font-size:36.80px;line-height:36.80px;font-weight:bold;color:#000;;transform-origin:0 0;transform:scaleX(1.0140)">in organ failure, potential cognitive impairment &amp; reduced life expectancy.</div>
<div style="left:99.6px;top:1193.7px;font-size:36.80px;line-height:36.80px;font-weight:bold;color:#000;;transform-origin:0 0;transform:scaleX(1.0089)">Urinary GAG analysis is utilized in the diagnostic work-up and therapeutic monitoring of patients with MPS</div>
<div style="left:99.6px;top:1244.9px;font-size:36.80px;line-height:36.80px;font-weight:bold;color:#000;;transform-origin:0 0;transform:scaleX(0.9858)">disorders.</div>
<div style="left:99.6px;top:1347.3px;font-size:36.80px;line-height:36.80px;font-weight:bold;color:#000;;transform-origin:0 0;transform:scaleX(0.9965)">GAG accumulation occurs prenatally, and GAG analysis in amniotic fluid has been used for the prenatal</div>
<div style="left:99.6px;top:1398.5px;font-size:36.80px;line-height:36.80px;font-weight:bold;color:#000;;transform-origin:0 0;transform:scaleX(0.9838)">diagnosis of these disorders.</div>
<div style="left:99.6px;top:1500.9px;font-size:36.80px;line-height:36.80px;font-weight:bold;color:#000;;transform-origin:0 0;transform:scaleX(1.0058)">Total GAG analysis by the colorimetric dimethylmethylene blue method may result in false negative results</div>
<div style="left:99.6px;top:1552.1px;font-size:36.80px;line-height:36.80px;font-weight:bold;color:#000;;transform-origin:0 0;transform:scaleX(0.9932)">for some MPS disorders, as elevations of a minor GAG species may be masked by higher levels of other GAG</div>
<div style="left:99.6px;top:1603.3px;font-size:36.80px;line-height:36.80px;font-weight:bold;color:#000;;transform-origin:0 0;transform:scaleX(0.9577)">species.</div>
<div style="left:99.6px;top:1705.7px;font-size:36.80px;line-height:36.80px;font-weight:bold;color:#000;;transform-origin:0 0;transform:scaleX(1.0193)">Tandem mass spectrometric (MS/MS) methods allow for the accurate/precise quantification of individual</div>
<div style="left:99.6px;top:1756.9px;font-size:36.80px;line-height:36.80px;font-weight:bold;color:#000;;transform-origin:0 0;transform:scaleX(0.9524)">GAG species.</div>
<div style="left:99.6px;top:1859.3px;font-size:36.80px;line-height:36.80px;font-weight:bold;color:#000;;transform-origin:0 0;transform:scaleX(1.0229)">With the potential for prenatal therapeutic interventions, it is important to document GAG concentrations</div>
<div style="left:99.6px;top:1910.5px;font-size:36.80px;line-height:36.80px;font-weight:bold;color:#000;;transform-origin:0 0;transform:scaleX(1.0014)">and trends in control samples.</div>
<div style="left:110.0px;top:2161.2px;font-size:36.80px;line-height:36.80px;font-weight:bold;color:#000;;transform-origin:0 0;transform:scaleX(0.9886)">Investigate age-specific changes in the relative proportion of three GAG species, CS, HS, and DS in control</div>
<div style="left:110.0px;top:2212.4px;font-size:36.80px;line-height:36.80px;font-weight:bold;color:#000;;transform-origin:0 0;transform:scaleX(1.0183)">urine and amniotic fluid.</div>
<div style="left:110.0px;top:2314.8px;font-size:36.80px;line-height:36.80px;font-weight:bold;color:#000;;">Establish trends for GAG distribution according to age (urine) or gestational age (amniotic fluid).</div>
<div style="left:110.0px;top:2592.9px;font-size:36.80px;line-height:36.80px;font-weight:bold;color:#000;;transform-origin:0 0;transform:scaleX(1.0020)">CS, DS, and HS in urine and amniotic fluid were analyzed as methylated dimers by UPLC-MS/MS on a</div>
<div style="left:110.0px;top:2644.1px;font-size:36.80px;line-height:36.80px;font-weight:bold;color:#000;;transform-origin:0 0;transform:scaleX(0.9823)">Waters Acquity UPLC system coupled to a Xevo-TQ S micro.</div>
<div style="left:110.0px;top:2746.5px;font-size:36.80px;line-height:36.80px;font-weight:bold;color:#000;;transform-origin:0 0;transform:scaleX(1.0042)">Control urine data was evaluated for trends in concentrations with age using GraphPad Prism 9.2.0 and</div>
<div style="left:110.0px;top:2797.7px;font-size:36.80px;line-height:36.80px;font-weight:bold;color:#000;;transform-origin:0 0;transform:scaleX(1.0011)">data was segregated into different age groups.</div>
<div style="left:110.0px;top:2900.1px;font-size:36.80px;line-height:36.80px;font-weight:bold;color:#000;;transform-origin:0 0;transform:scaleX(0.9898)">Statistical significance was established between these groups using the Kruskal-Wallis test and Dunn&#8217;s</div>
<div style="left:110.0px;top:2951.3px;font-size:36.80px;line-height:36.80px;font-weight:bold;color:#000;;transform-origin:0 0;transform:scaleX(1.0159)">multiple comparison test.</div>
<div style="left:110.0px;top:3053.7px;font-size:36.80px;line-height:36.80px;font-weight:bold;color:#000;;transform-origin:0 0;transform:scaleX(1.0107)">Amniotic fluid data was grouped into biweekly gestational age increments.</div>
<div style="left:110.0px;top:3156.1px;font-size:36.80px;line-height:36.80px;font-weight:bold;color:#000;;transform-origin:0 0;transform:scaleX(1.0031)">The relative amount of each GAG species was calculated from the mean concentration for each age group.</div>
<div style="left:110.0px;top:3258.5px;font-size:36.80px;line-height:36.80px;font-weight:bold;color:#000;;transform-origin:0 0;transform:scaleX(0.9893)">Linear regression was used to assess trends in the relative distribution of CS, DS, and HS. p-values &#8804;0.05</div>
<div style="left:110.0px;top:3309.7px;font-size:36.80px;line-height:36.80px;font-weight:bold;color:#000;;transform-origin:0 0;transform:scaleX(1.0155)">were deemed significant.</div>
<div style="left:496.0px;top:3540.7px;font-size:46.00px;line-height:46.00px;font-weight:bold;color:#000;;transform-origin:0 0;transform:scaleX(1.0205)"><u>Urine</u></div>
<div style="left:384.0px;top:3602.3px;font-size:36.80px;line-height:36.80px;font-weight:bold;color:#000;;transform-origin:0 0;transform:scaleX(0.9896)">Cohort size: n = 811</div>
<div style="left:315.0px;top:3653.5px;font-size:36.80px;line-height:36.80px;font-weight:bold;color:#000;;transform-origin:0 0;transform:scaleX(1.0072)">Gender: males and females</div>
<div style="left:206.0px;top:3704.7px;font-size:36.80px;line-height:36.80px;font-weight:bold;color:#000;;transform-origin:0 0;transform:scaleX(1.0109)">Age: 0.0 &#8211; 83.9 years (median 3.6 years)</div>
<div style="left:314.0px;top:3755.9px;font-size:36.80px;line-height:36.80px;font-weight:bold;color:#000;;transform-origin:0 0;transform:scaleX(1.0052)">No special diet or condition</div>
<div style="left:265.0px;top:3807.1px;font-size:36.80px;line-height:36.80px;font-weight:bold;color:#000;;transform-origin:0 0;transform:scaleX(1.0220)">Not under controlled parameters</div>
<div style="left:1369.0px;top:3538.6px;font-size:46.00px;line-height:46.00px;font-weight:bold;color:#000;;transform-origin:0 0;transform:scaleX(0.9987)"><u>Amniotic Fluid</u></div>
<div style="left:1366.0px;top:3602.3px;font-size:36.80px;line-height:36.80px;font-weight:bold;color:#000;;transform-origin:0 0;transform:scaleX(0.9873)">Cohort size: n = 28</div>
<div style="left:1035.4px;top:3653.5px;font-size:36.80px;line-height:36.80px;font-weight:bold;color:#000;;transform-origin:0 0;transform:scaleX(1.0192)">Gestational age: 19.9 &#8211; 34.7 weeks (median 25.6 weeks)</div>
<div style="left:1286.0px;top:3704.7px;font-size:36.80px;line-height:36.80px;font-weight:bold;color:#000;;transform-origin:0 0;transform:scaleX(1.0062)">No special diet or condition</div>
<div style="left:1237.0px;top:3755.9px;font-size:36.80px;line-height:36.80px;font-weight:bold;color:#000;;transform-origin:0 0;transform:scaleX(1.0213)">Not under controlled parameters</div>
<div style="left:117.4px;top:4020.7px;font-size:36.80px;line-height:36.80px;font-weight:bold;color:#000;;transform-origin:0 0;transform:scaleX(1.0037)">These data demonstrate the importance of age-specific reference ranges considering the variability in</div>
<div style="left:117.4px;top:4071.9px;font-size:36.80px;line-height:36.80px;font-weight:bold;color:#000;;transform-origin:0 0;transform:scaleX(0.9969)">GAGs distribution across age-groups. A better understanding of GAGs distribution with age will improve</div>
<div style="left:117.4px;top:4123.1px;font-size:36.80px;line-height:36.80px;font-weight:bold;color:#000;;transform-origin:0 0;transform:scaleX(1.0155)">the interpretation of diagnostic and monitoring results for patients.</div>
<div style="left:2041.6px;top:4011.8px;font-size:36.80px;line-height:36.80px;font-weight:bold;color:#000;;transform-origin:0 0;transform:scaleX(1.0068)">Muenzer J. (2011). Overview of the mucopolysaccharidoses. Rheumatology (Oxford, England), 50 Suppl 5, v4&#8211;v12.</div>
<div style="left:2041.6px;top:4063.0px;font-size:36.80px;line-height:36.80px;font-weight:bold;color:#000;;transform-origin:0 0;transform:scaleX(1.0119)">Khan, S. A et al.(2017). Epidemiology of mucopolysaccharidoses. Molecular Genetics and Metabolism, 121(3), 227&#8211;240.</div>
<div style="left:2041.6px;top:4114.2px;font-size:36.80px;line-height:36.80px;font-weight:bold;color:#000;;transform-origin:0 0;transform:scaleX(1.0046)">McBride, K. L., &amp; Flanigan, K. M. (2021). Update in the Mucopolysaccharidoses. Seminars in Pediatric Neurology, 37</div>
<div style="left:2101.5px;top:3602.6px;font-size:36.80px;line-height:36.80px;font-weight:bold;color:#000;;transform-origin:0 0;transform:scaleX(1.0055)">Our findings show a decreasing trend in DS relative abundance in amniotic fluid. After birth, relative DS abundance</div>
<div style="left:2101.5px;top:3653.8px;font-size:36.80px;line-height:36.80px;font-weight:bold;color:#000;;transform-origin:0 0;transform:scaleX(1.0065)">tends to increase until adulthood. The opposite trend was noticed in CS relative abundance.</div>
<div style="left:2101.5px;top:3756.2px;font-size:36.80px;line-height:36.80px;font-weight:bold;color:#000;;">HS showed an increasing trend in relative abundance in amniotic fluids. Relative concentrations of HS tends to</div>
<div style="left:2101.5px;top:3807.4px;font-size:36.80px;line-height:36.80px;font-weight:bold;color:#000;;transform-origin:0 0;transform:scaleX(1.0193)">stabilize after birth.</div>
<div style="left:2114.0px;top:3386.4px;font-size:36.80px;line-height:36.80px;font-weight:bold;color:#000;;transform-origin:0 0;transform:scaleX(1.0036)">* Bold indicates values above the reference range</div>
<div style="left:2461.0px;top:720.1px;font-size:46.00px;line-height:46.00px;font-weight:bold;color:#000;;transform-origin:0 0;transform:scaleX(0.9955)"><u>Amniotic Fluid</u></div>
<div style="left:3628.4px;top:720.1px;font-size:46.00px;line-height:46.00px;font-weight:bold;color:#000;;transform-origin:0 0;transform:scaleX(1.0222)"><u>Urine</u></div>
<div style="left:2427.0px;top:2023.9px;font-size:46.00px;line-height:46.00px;font-weight:bold;color:#000;;transform-origin:0 0;transform:scaleX(1.0018)"><u>Amniotic Fluid</u></div>
<div style="left:3534.0px;top:2007.7px;font-size:46.00px;line-height:46.00px;font-weight:bold;color:#000;;transform-origin:0 0;transform:scaleX(1.0324)"><u>Urine</u></div>
<div style="left:2219.0px;top:775.3px;font-size:37.50px;line-height:37.50px;font-weight:bold;color:#000;;transform-origin:0 0;transform:scaleX(0.8715)">DS</div>
<div style="left:2205.3px;top:826.3px;font-size:37.50px;line-height:37.50px;font-weight:bold;color:#000;;transform-origin:0 0;transform:scaleX(0.9700)">48%</div>
<div style="left:2352.5px;top:775.3px;font-size:37.50px;line-height:37.50px;font-weight:bold;color:#000;;transform-origin:0 0;transform:scaleX(0.7870)">CS</div>
<div style="left:2336.6px;top:826.3px;font-size:37.50px;line-height:37.50px;font-weight:bold;color:#000;;transform-origin:0 0;transform:scaleX(0.9700)">48%</div>
<div style="left:2487.0px;top:775.3px;font-size:37.50px;line-height:37.50px;font-weight:bold;color:#000;;transform-origin:0 0;transform:scaleX(0.8715)">HS</div>
<div style="left:2483.4px;top:826.3px;font-size:37.50px;line-height:37.50px;font-weight:bold;color:#000;;transform-origin:0 0;transform:scaleX(0.9700)">4%</div>
<div style="left:2737.9px;top:775.3px;font-size:37.50px;line-height:37.50px;font-weight:bold;color:#000;;transform-origin:0 0;transform:scaleX(0.8715)">DS</div>
<div style="left:2724.2px;top:826.3px;font-size:37.50px;line-height:37.50px;font-weight:bold;color:#000;;transform-origin:0 0;transform:scaleX(0.9700)">44%</div>
<div style="left:2927.8px;top:775.3px;font-size:37.50px;line-height:37.50px;font-weight:bold;color:#000;;transform-origin:0 0;transform:scaleX(0.7870)">CS</div>
<div style="left:2911.9px;top:826.3px;font-size:37.50px;line-height:37.50px;font-weight:bold;color:#000;;transform-origin:0 0;transform:scaleX(0.9700)">49%</div>
<div style="left:3018.7px;top:775.3px;font-size:37.50px;line-height:37.50px;font-weight:bold;color:#000;;transform-origin:0 0;transform:scaleX(0.8715)">HS</div>
<div style="left:3015.1px;top:826.3px;font-size:37.50px;line-height:37.50px;font-weight:bold;color:#000;;transform-origin:0 0;transform:scaleX(0.9700)">7%</div>
<div style="left:2229.5px;top:982.0px;font-size:37.50px;line-height:37.50px;font-weight:bold;color:#000;;">19-20.99 weeks</div>
<div style="left:2749.7px;top:982.0px;font-size:37.50px;line-height:37.50px;font-weight:bold;color:#000;;">21-22.99 weeks</div>
<div style="left:2214.3px;top:1062.3px;font-size:37.50px;line-height:37.50px;font-weight:bold;color:#000;;transform-origin:0 0;transform:scaleX(0.8715)">DS</div>
<div style="left:2200.6px;top:1113.3px;font-size:37.50px;line-height:37.50px;font-weight:bold;color:#000;;transform-origin:0 0;transform:scaleX(0.9700)">31%</div>
<div style="left:2371.2px;top:1062.3px;font-size:37.50px;line-height:37.50px;font-weight:bold;color:#000;;transform-origin:0 0;transform:scaleX(0.7870)">CS</div>
<div style="left:2355.3px;top:1113.3px;font-size:37.50px;line-height:37.50px;font-weight:bold;color:#000;;transform-origin:0 0;transform:scaleX(0.9700)">58%</div>
<div style="left:2491.3px;top:1062.3px;font-size:37.50px;line-height:37.50px;font-weight:bold;color:#000;;transform-origin:0 0;transform:scaleX(0.8715)">HS</div>
<div style="left:2477.6px;top:1113.3px;font-size:37.50px;line-height:37.50px;font-weight:bold;color:#000;;transform-origin:0 0;transform:scaleX(0.9700)">11%</div>
<div style="left:2743.3px;top:1062.3px;font-size:37.50px;line-height:37.50px;font-weight:bold;color:#000;;transform-origin:0 0;transform:scaleX(0.8715)">DS</div>
<div style="left:2729.6px;top:1113.3px;font-size:37.50px;line-height:37.50px;font-weight:bold;color:#000;;transform-origin:0 0;transform:scaleX(0.9700)">27%</div>
<div style="left:2894.1px;top:1062.3px;font-size:37.50px;line-height:37.50px;font-weight:bold;color:#000;;transform-origin:0 0;transform:scaleX(0.7870)">CS</div>
<div style="left:2878.2px;top:1113.3px;font-size:37.50px;line-height:37.50px;font-weight:bold;color:#000;;transform-origin:0 0;transform:scaleX(0.9700)">62%</div>
<div style="left:3013.1px;top:1062.3px;font-size:37.50px;line-height:37.50px;font-weight:bold;color:#000;;transform-origin:0 0;transform:scaleX(0.8715)">HS</div>
<div style="left:2999.4px;top:1113.3px;font-size:37.50px;line-height:37.50px;font-weight:bold;color:#000;;transform-origin:0 0;transform:scaleX(0.9700)">11%</div>
<div style="left:2223.5px;top:1278.7px;font-size:37.50px;line-height:37.50px;font-weight:bold;color:#000;;">23-24.99 weeks</div>
<div style="left:2759.1px;top:1263.7px;font-size:37.50px;line-height:37.50px;font-weight:bold;color:#000;;">25-26.99 weeks</div>
<div style="left:2212.3px;top:1350.7px;font-size:37.50px;line-height:37.50px;font-weight:bold;color:#000;;transform-origin:0 0;transform:scaleX(0.8715)">DS</div>
<div style="left:2198.6px;top:1401.6px;font-size:37.50px;line-height:37.50px;font-weight:bold;color:#000;;transform-origin:0 0;transform:scaleX(0.9700)">20%</div>
<div style="left:2343.5px;top:1350.7px;font-size:37.50px;line-height:37.50px;font-weight:bold;color:#000;;transform-origin:0 0;transform:scaleX(0.7870)">CS</div>
<div style="left:2327.6px;top:1401.6px;font-size:37.50px;line-height:37.50px;font-weight:bold;color:#000;;transform-origin:0 0;transform:scaleX(0.9700)">64%</div>
<div style="left:2487.0px;top:1350.7px;font-size:37.50px;line-height:37.50px;font-weight:bold;color:#000;;transform-origin:0 0;transform:scaleX(0.8715)">HS</div>
<div style="left:2473.3px;top:1401.6px;font-size:37.50px;line-height:37.50px;font-weight:bold;color:#000;;transform-origin:0 0;transform:scaleX(0.9700)">16%</div>
<div style="left:2746.7px;top:1350.7px;font-size:37.50px;line-height:37.50px;font-weight:bold;color:#000;;transform-origin:0 0;transform:scaleX(0.8715)">DS</div>
<div style="left:2733.0px;top:1401.6px;font-size:37.50px;line-height:37.50px;font-weight:bold;color:#000;;transform-origin:0 0;transform:scaleX(0.9700)">17%</div>
<div style="left:2853.1px;top:1350.7px;font-size:37.50px;line-height:37.50px;font-weight:bold;color:#000;;transform-origin:0 0;transform:scaleX(0.7870)">CS</div>
<div style="left:2837.2px;top:1401.6px;font-size:37.50px;line-height:37.50px;font-weight:bold;color:#000;;transform-origin:0 0;transform:scaleX(0.9700)">62%</div>
<div style="left:2997.1px;top:1350.7px;font-size:37.50px;line-height:37.50px;font-weight:bold;color:#000;;transform-origin:0 0;transform:scaleX(0.8715)">HS</div>
<div style="left:2983.4px;top:1401.6px;font-size:37.50px;line-height:37.50px;font-weight:bold;color:#000;;transform-origin:0 0;transform:scaleX(0.9700)">21%</div>
<div style="left:2224.5px;top:1566.7px;font-size:37.50px;line-height:37.50px;font-weight:bold;color:#000;;">27-28.99 weeks</div>
<div style="left:2755.2px;top:1562.3px;font-size:37.50px;line-height:37.50px;font-weight:bold;color:#000;;">29-30.99 weeks</div>
<div style="left:2212.9px;top:1638.7px;font-size:37.50px;line-height:37.50px;font-weight:bold;color:#000;;transform-origin:0 0;transform:scaleX(0.8715)">DS</div>
<div style="left:2199.2px;top:1689.6px;font-size:37.50px;line-height:37.50px;font-weight:bold;color:#000;;transform-origin:0 0;transform:scaleX(0.9700)">17%</div>
<div style="left:2329.1px;top:1638.7px;font-size:37.50px;line-height:37.50px;font-weight:bold;color:#000;;transform-origin:0 0;transform:scaleX(0.7870)">CS</div>
<div style="left:2313.2px;top:1689.6px;font-size:37.50px;line-height:37.50px;font-weight:bold;color:#000;;transform-origin:0 0;transform:scaleX(0.9700)">67%</div>
<div style="left:2473.2px;top:1638.7px;font-size:37.50px;line-height:37.50px;font-weight:bold;color:#000;;transform-origin:0 0;transform:scaleX(0.8715)">HS</div>
<div style="left:2459.5px;top:1689.6px;font-size:37.50px;line-height:37.50px;font-weight:bold;color:#000;;transform-origin:0 0;transform:scaleX(0.9700)">16%</div>
<div style="left:2736.3px;top:1638.7px;font-size:37.50px;line-height:37.50px;font-weight:bold;color:#000;;transform-origin:0 0;transform:scaleX(0.8715)">DS</div>
<div style="left:2722.6px;top:1689.6px;font-size:37.50px;line-height:37.50px;font-weight:bold;color:#000;;transform-origin:0 0;transform:scaleX(0.9700)">17%</div>
<div style="left:2848.5px;top:1638.7px;font-size:37.50px;line-height:37.50px;font-weight:bold;color:#000;;transform-origin:0 0;transform:scaleX(0.7870)">CS</div>
<div style="left:2832.6px;top:1689.6px;font-size:37.50px;line-height:37.50px;font-weight:bold;color:#000;;transform-origin:0 0;transform:scaleX(0.9700)">66%</div>
<div style="left:2999.3px;top:1638.7px;font-size:37.50px;line-height:37.50px;font-weight:bold;color:#000;;transform-origin:0 0;transform:scaleX(0.8715)">HS</div>
<div style="left:2985.6px;top:1689.6px;font-size:37.50px;line-height:37.50px;font-weight:bold;color:#000;;transform-origin:0 0;transform:scaleX(0.9700)">17%</div>
<div style="left:2211.9px;top:1851.9px;font-size:37.50px;line-height:37.50px;font-weight:bold;color:#000;;">31-32.99 weeks</div>
<div style="left:2760.2px;top:1861.3px;font-size:37.50px;line-height:37.50px;font-weight:bold;color:#000;;">33-34.99 weeks</div>
<div style="left:3253.5px;top:785.3px;font-size:37.50px;line-height:37.50px;font-weight:bold;color:#000;;transform-origin:0 0;transform:scaleX(0.8715)">DS</div>
<div style="left:3239.8px;top:835.3px;font-size:37.50px;line-height:37.50px;font-weight:bold;color:#000;;transform-origin:0 0;transform:scaleX(0.9700)">14%</div>
<div style="left:3418.5px;top:785.3px;font-size:37.50px;line-height:37.50px;font-weight:bold;color:#000;;transform-origin:0 0;transform:scaleX(0.7870)">CS</div>
<div style="left:3402.6px;top:835.3px;font-size:37.50px;line-height:37.50px;font-weight:bold;color:#000;;transform-origin:0 0;transform:scaleX(0.9700)">76%</div>
<div style="left:3537.1px;top:785.3px;font-size:37.50px;line-height:37.50px;font-weight:bold;color:#000;;transform-origin:0 0;transform:scaleX(0.8715)">HS</div>
<div style="left:3523.4px;top:835.3px;font-size:37.50px;line-height:37.50px;font-weight:bold;color:#000;;transform-origin:0 0;transform:scaleX(0.9700)">10%</div>
<div style="left:3738.7px;top:785.3px;font-size:37.50px;line-height:37.50px;font-weight:bold;color:#000;;transform-origin:0 0;transform:scaleX(0.8715)">DS</div>
<div style="left:3725.0px;top:835.3px;font-size:37.50px;line-height:37.50px;font-weight:bold;color:#000;;transform-origin:0 0;transform:scaleX(0.9700)">15%</div>
<div style="left:3863.8px;top:785.3px;font-size:37.50px;line-height:37.50px;font-weight:bold;color:#000;;transform-origin:0 0;transform:scaleX(0.7870)">CS</div>
<div style="left:3847.9px;top:835.3px;font-size:37.50px;line-height:37.50px;font-weight:bold;color:#000;;transform-origin:0 0;transform:scaleX(0.9700)">73%</div>
<div style="left:4016.1px;top:785.3px;font-size:37.50px;line-height:37.50px;font-weight:bold;color:#000;;transform-origin:0 0;transform:scaleX(0.8715)">HS</div>
<div style="left:4002.4px;top:835.3px;font-size:37.50px;line-height:37.50px;font-weight:bold;color:#000;;transform-origin:0 0;transform:scaleX(0.9700)">12%</div>
<div style="left:3277.0px;top:995.8px;font-size:37.50px;line-height:37.50px;font-weight:bold;color:#000;;">&gt; 6 months</div>
<div style="left:3765.6px;top:994.7px;font-size:37.50px;line-height:37.50px;font-weight:bold;color:#000;;">6 - 12 months</div>
<div style="left:3253.3px;top:1072.3px;font-size:37.50px;line-height:37.50px;font-weight:bold;color:#000;;transform-origin:0 0;transform:scaleX(0.8715)">DS</div>
<div style="left:3239.6px;top:1123.3px;font-size:37.50px;line-height:37.50px;font-weight:bold;color:#000;;transform-origin:0 0;transform:scaleX(0.9700)">17%</div>
<div style="left:3418.5px;top:1072.3px;font-size:37.50px;line-height:37.50px;font-weight:bold;color:#000;;transform-origin:0 0;transform:scaleX(0.7870)">CS</div>
<div style="left:3402.6px;top:1123.3px;font-size:37.50px;line-height:37.50px;font-weight:bold;color:#000;;transform-origin:0 0;transform:scaleX(0.9700)">74%</div>
<div style="left:3537.3px;top:1072.3px;font-size:37.50px;line-height:37.50px;font-weight:bold;color:#000;;transform-origin:0 0;transform:scaleX(0.8715)">HS</div>
<div style="left:3533.7px;top:1123.3px;font-size:37.50px;line-height:37.50px;font-weight:bold;color:#000;;transform-origin:0 0;transform:scaleX(0.9700)">9%</div>
<div style="left:3742.3px;top:1072.3px;font-size:37.50px;line-height:37.50px;font-weight:bold;color:#000;;transform-origin:0 0;transform:scaleX(0.8715)">DS</div>
<div style="left:3728.6px;top:1123.3px;font-size:37.50px;line-height:37.50px;font-weight:bold;color:#000;;transform-origin:0 0;transform:scaleX(0.9700)">22%</div>
<div style="left:3889.3px;top:1072.3px;font-size:37.50px;line-height:37.50px;font-weight:bold;color:#000;;transform-origin:0 0;transform:scaleX(0.7870)">CS</div>
<div style="left:3873.4px;top:1123.3px;font-size:37.50px;line-height:37.50px;font-weight:bold;color:#000;;transform-origin:0 0;transform:scaleX(0.9700)">69%</div>
<div style="left:4021.7px;top:1072.3px;font-size:37.50px;line-height:37.50px;font-weight:bold;color:#000;;transform-origin:0 0;transform:scaleX(0.8715)">HS</div>
<div style="left:4018.1px;top:1123.3px;font-size:37.50px;line-height:37.50px;font-weight:bold;color:#000;;transform-origin:0 0;transform:scaleX(0.9700)">9%</div>
<div style="left:3313.6px;top:1273.1px;font-size:37.50px;line-height:37.50px;font-weight:bold;color:#000;;">1 - 4 years</div>
<div style="left:3768.3px;top:1281.5px;font-size:37.50px;line-height:37.50px;font-weight:bold;color:#000;;">4 - 10 years</div>
<div style="left:3253.3px;top:1359.0px;font-size:37.50px;line-height:37.50px;font-weight:bold;color:#000;;transform-origin:0 0;transform:scaleX(0.8715)">DS</div>
<div style="left:3239.6px;top:1410.5px;font-size:37.50px;line-height:37.50px;font-weight:bold;color:#000;;transform-origin:0 0;transform:scaleX(0.9700)">39%</div>
<div style="left:3418.5px;top:1359.0px;font-size:37.50px;line-height:37.50px;font-weight:bold;color:#000;;transform-origin:0 0;transform:scaleX(0.7870)">CS</div>
<div style="left:3402.6px;top:1410.5px;font-size:37.50px;line-height:37.50px;font-weight:bold;color:#000;;transform-origin:0 0;transform:scaleX(0.9700)">51%</div>
<div style="left:3537.3px;top:1359.0px;font-size:37.50px;line-height:37.50px;font-weight:bold;color:#000;;transform-origin:0 0;transform:scaleX(0.8715)">HS</div>
<div style="left:3523.6px;top:1410.5px;font-size:37.50px;line-height:37.50px;font-weight:bold;color:#000;;transform-origin:0 0;transform:scaleX(0.9700)">10%</div>
<div style="left:3754.7px;top:1359.0px;font-size:37.50px;line-height:37.50px;font-weight:bold;color:#000;;transform-origin:0 0;transform:scaleX(0.8715)">DS</div>
<div style="left:3741.0px;top:1410.5px;font-size:37.50px;line-height:37.50px;font-weight:bold;color:#000;;transform-origin:0 0;transform:scaleX(0.9700)">53%</div>
<div style="left:3927.5px;top:1359.0px;font-size:37.50px;line-height:37.50px;font-weight:bold;color:#000;;transform-origin:0 0;transform:scaleX(0.7870)">CS</div>
<div style="left:3911.6px;top:1410.5px;font-size:37.50px;line-height:37.50px;font-weight:bold;color:#000;;transform-origin:0 0;transform:scaleX(0.9700)">34%</div>
<div style="left:4021.7px;top:1359.0px;font-size:37.50px;line-height:37.50px;font-weight:bold;color:#000;;transform-origin:0 0;transform:scaleX(0.8715)">HS</div>
<div style="left:4008.0px;top:1410.5px;font-size:37.50px;line-height:37.50px;font-weight:bold;color:#000;;transform-origin:0 0;transform:scaleX(0.9700)">13%</div>
<div style="left:3311.4px;top:1571.1px;font-size:37.50px;line-height:37.50px;font-weight:bold;color:#000;;">10 - 18 years</div>
<div style="left:3772.4px;top:1583.3px;font-size:37.50px;line-height:37.50px;font-weight:bold;color:#000;;">&gt; 18&#160; years</div>
<div style="left:2202.7px;top:2473.7px;font-size:33.00px;line-height:33.00px;font-weight:bold;color:#000;;transform-origin:0 0;transform:scaleX(0.9441)">0</div>
<div style="left:2185.3px;top:2398.6px;font-size:33.00px;line-height:33.00px;font-weight:bold;color:#000;;transform-origin:0 0;transform:scaleX(0.9441)">20</div>
<div style="left:2185.3px;top:2323.5px;font-size:33.00px;line-height:33.00px;font-weight:bold;color:#000;;transform-origin:0 0;transform:scaleX(0.9441)">40</div>
<div style="left:2185.3px;top:2248.4px;font-size:33.00px;line-height:33.00px;font-weight:bold;color:#000;;transform-origin:0 0;transform:scaleX(0.9441)">60</div>
<div style="left:2185.3px;top:2173.3px;font-size:33.00px;line-height:33.00px;font-weight:bold;color:#000;;transform-origin:0 0;transform:scaleX(0.9441)">80</div>
<div style="left:2168.0px;top:2098.2px;font-size:33.00px;line-height:33.00px;font-weight:bold;color:#000;;transform-origin:0 0;transform:scaleX(0.9444)">100</div>
<div style="left:2343.4px;top:2507.3px;font-size:33.00px;line-height:33.00px;font-weight:bold;color:#000;;">DS</div>
<div style="left:2617.5px;top:2507.3px;font-size:33.00px;line-height:33.00px;font-weight:bold;color:#000;;">CS</div>
<div style="left:2892.8px;top:2507.3px;font-size:33.00px;line-height:33.00px;font-weight:bold;color:#000;;">HS</div>
<div style="left:1944.7px;top:2271.5px;font-size:40.00px;line-height:40.00px;font-weight:bold;color:#000;;transform-origin:50% 50%;transform:rotate(-90deg) scaleX(1.0253)">Relative Abundance</div>
<div style="left:3203.1px;top:2459.2px;font-size:33.00px;line-height:33.00px;font-weight:bold;color:#000;;transform-origin:0 0;transform:scaleX(0.9114)">0</div>
<div style="left:3186.3px;top:2383.6px;font-size:33.00px;line-height:33.00px;font-weight:bold;color:#000;;transform-origin:0 0;transform:scaleX(0.9114)">20</div>
<div style="left:3186.3px;top:2307.9px;font-size:33.00px;line-height:33.00px;font-weight:bold;color:#000;;transform-origin:0 0;transform:scaleX(0.9114)">40</div>
<div style="left:3186.3px;top:2232.3px;font-size:33.00px;line-height:33.00px;font-weight:bold;color:#000;;transform-origin:0 0;transform:scaleX(0.9114)">60</div>
<div style="left:3186.3px;top:2156.6px;font-size:33.00px;line-height:33.00px;font-weight:bold;color:#000;;transform-origin:0 0;transform:scaleX(0.9114)">80</div>
<div style="left:3169.6px;top:2080.9px;font-size:33.00px;line-height:33.00px;font-weight:bold;color:#000;;transform-origin:0 0;transform:scaleX(0.9117)">100</div>
<div style="left:3342.1px;top:2489.6px;font-size:33.00px;line-height:33.00px;font-weight:bold;color:#000;;">DS</div>
<div style="left:3615.5px;top:2489.6px;font-size:33.00px;line-height:33.00px;font-weight:bold;color:#000;;">CS</div>
<div style="left:3889.9px;top:2489.6px;font-size:33.00px;line-height:33.00px;font-weight:bold;color:#000;;">HS</div>
<div style="left:2951.2px;top:2257.8px;font-size:38.50px;line-height:38.50px;font-weight:bold;color:#000;;transform-origin:50% 50%;transform:rotate(-90deg) scaleX(0.9878)">Relative Abundance</div>
<div style="left:2138.0px;top:2694.7px;font-size:38.50px;line-height:38.50px;font-weight:bold;color:#fff;;transform-origin:0 0;transform:scaleX(0.9506)">ID</div>
<div style="left:2242.0px;top:2670.9px;font-size:38.50px;line-height:38.50px;font-weight:bold;color:#fff;;transform-origin:0 0;transform:scaleX(0.9060)">Age</div>
<div style="left:2215.7px;top:2719.6px;font-size:38.50px;line-height:38.50px;font-weight:bold;color:#fff;;transform-origin:0 0;transform:scaleX(0.9384)">(years)</div>
<div style="left:2381.8px;top:2670.9px;font-size:38.50px;line-height:38.50px;font-weight:bold;color:#fff;;transform-origin:0 0;transform:scaleX(0.9420)">MPS</div>
<div style="left:2382.1px;top:2719.6px;font-size:38.50px;line-height:38.50px;font-weight:bold;color:#fff;;transform-origin:0 0;transform:scaleX(0.9852)">type</div>
<div style="left:2582.3px;top:2670.9px;font-size:38.50px;line-height:38.50px;font-weight:bold;color:#fff;;transform-origin:0 0;transform:scaleX(0.9024)">[HS]</div>
<div style="left:2506.8px;top:2719.6px;font-size:38.50px;line-height:38.50px;font-weight:bold;color:#fff;;">g/mol Creat.</div>
<div style="left:2839.2px;top:2670.9px;font-size:38.50px;line-height:38.50px;font-weight:bold;color:#fff;;transform-origin:0 0;transform:scaleX(0.8961)">[DS]</div>
<div style="left:2763.5px;top:2719.6px;font-size:38.50px;line-height:38.50px;font-weight:bold;color:#fff;;">g/mol Creat.</div>
<div style="left:3084.9px;top:2670.9px;font-size:38.50px;line-height:38.50px;font-weight:bold;color:#fff;;transform-origin:0 0;transform:scaleX(0.8961)">[CS]</div>
<div style="left:3009.1px;top:2719.6px;font-size:38.50px;line-height:38.50px;font-weight:bold;color:#fff;;">g/mol Creat.</div>
<div style="left:3273.9px;top:2670.9px;font-size:38.50px;line-height:38.50px;font-weight:bold;color:#fff;;transform-origin:0 0;transform:scaleX(0.9319)">Ref range [HS]</div>
<div style="left:3287.3px;top:2719.6px;font-size:38.50px;line-height:38.50px;font-weight:bold;color:#fff;;">g/mol Creat.</div>
<div style="left:3585.0px;top:2670.9px;font-size:38.50px;line-height:38.50px;font-weight:bold;color:#fff;;transform-origin:0 0;transform:scaleX(0.9297)">Ref range [DS]</div>
<div style="left:3598.1px;top:2719.6px;font-size:38.50px;line-height:38.50px;font-weight:bold;color:#fff;;">g/mol Creat.</div>
<div style="left:3891.9px;top:2670.9px;font-size:38.50px;line-height:38.50px;font-weight:bold;color:#fff;;transform-origin:0 0;transform:scaleX(0.9143)">Ref. range[CS]</div>
<div style="left:3902.9px;top:2719.6px;font-size:38.50px;line-height:38.50px;font-weight:bold;color:#fff;;">g/mol Creat.</div>
<div style="left:2145.5px;top:2780.9px;font-size:38.00px;line-height:38.00px;font-weight:normal;color:#000;letter-spacing:0.5px;">1</div>
<div style="left:2247.8px;top:2780.9px;font-size:38.00px;line-height:38.00px;font-weight:normal;color:#000;letter-spacing:0.5px;">1.0</div>
<div style="left:2415.6px;top:2780.9px;font-size:38.00px;line-height:38.00px;font-weight:normal;color:#000;letter-spacing:0.5px;">I</div>
<div style="left:2570.5px;top:2780.9px;font-size:38.00px;line-height:38.00px;font-weight:bold;color:#000;;">200.4</div>
<div style="left:2827.2px;top:2780.9px;font-size:38.00px;line-height:38.00px;font-weight:bold;color:#000;;">148.2</div>
<div style="left:3083.4px;top:2780.9px;font-size:38.00px;line-height:38.00px;font-weight:bold;color:#000;;">58.8</div>
<div style="left:3360.0px;top:2780.9px;font-size:38.00px;line-height:38.00px;font-weight:normal;color:#000;letter-spacing:0.5px;">&lt;2.4</div>
<div style="left:3670.8px;top:2780.9px;font-size:38.00px;line-height:38.00px;font-weight:normal;color:#000;letter-spacing:0.5px;">&lt;4.7</div>
<div style="left:3964.8px;top:2780.9px;font-size:38.00px;line-height:38.00px;font-weight:normal;color:#000;letter-spacing:0.5px;">&lt;18.8</div>
<div style="left:2145.5px;top:2841.7px;font-size:38.00px;line-height:38.00px;font-weight:normal;color:#000;letter-spacing:0.5px;">2</div>
<div style="left:2247.8px;top:2841.7px;font-size:38.00px;line-height:38.00px;font-weight:normal;color:#000;letter-spacing:0.5px;">0.8</div>
<div style="left:2415.6px;top:2841.7px;font-size:38.00px;line-height:38.00px;font-weight:normal;color:#000;letter-spacing:0.5px;">I</div>
<div style="left:2570.5px;top:2841.7px;font-size:38.00px;line-height:38.00px;font-weight:bold;color:#000;;">417.0</div>
<div style="left:2827.2px;top:2841.7px;font-size:38.00px;line-height:38.00px;font-weight:bold;color:#000;;">177.1</div>
<div style="left:3099.2px;top:2841.7px;font-size:38.00px;line-height:38.00px;font-weight:bold;color:#000;;">86</div>
<div style="left:3360.0px;top:2841.7px;font-size:38.00px;line-height:38.00px;font-weight:normal;color:#000;letter-spacing:0.5px;">&lt;4.7</div>
<div style="left:3670.8px;top:2841.7px;font-size:38.00px;line-height:38.00px;font-weight:normal;color:#000;letter-spacing:0.5px;">&lt;6.6</div>
<div style="left:3964.8px;top:2841.7px;font-size:38.00px;line-height:38.00px;font-weight:normal;color:#000;letter-spacing:0.5px;">&lt;26.6</div>
<div style="left:2145.5px;top:2902.6px;font-size:38.00px;line-height:38.00px;font-weight:normal;color:#000;letter-spacing:0.5px;">3</div>
<div style="left:2237.0px;top:2902.6px;font-size:38.00px;line-height:38.00px;font-weight:normal;color:#000;letter-spacing:0.5px;">0.37</div>
<div style="left:2410.0px;top:2902.6px;font-size:38.00px;line-height:38.00px;font-weight:normal;color:#000;letter-spacing:0.5px;">II</div>
<div style="left:2586.3px;top:2902.6px;font-size:38.00px;line-height:38.00px;font-weight:bold;color:#000;;">467</div>
<div style="left:2843.0px;top:2902.6px;font-size:38.00px;line-height:38.00px;font-weight:bold;color:#000;;">128</div>
<div style="left:3099.2px;top:2902.6px;font-size:38.00px;line-height:38.00px;font-weight:bold;color:#000;;">87</div>
<div style="left:3360.0px;top:2902.6px;font-size:38.00px;line-height:38.00px;font-weight:normal;color:#000;letter-spacing:0.5px;">&lt;8.3</div>
<div style="left:3660.0px;top:2902.6px;font-size:38.00px;line-height:38.00px;font-weight:normal;color:#000;letter-spacing:0.5px;">&lt;10.7</div>
<div style="left:3964.8px;top:2902.6px;font-size:38.00px;line-height:38.00px;font-weight:normal;color:#000;letter-spacing:0.5px;">&lt;55.6</div>
<div style="left:2145.5px;top:2964.1px;font-size:38.00px;line-height:38.00px;font-weight:normal;color:#000;letter-spacing:0.5px;">4</div>
<div style="left:2237.0px;top:2964.1px;font-size:38.00px;line-height:38.00px;font-weight:normal;color:#000;letter-spacing:0.5px;">0.43</div>
<div style="left:2410.0px;top:2964.1px;font-size:38.00px;line-height:38.00px;font-weight:normal;color:#000;letter-spacing:0.5px;">II</div>
<div style="left:2586.3px;top:2964.1px;font-size:38.00px;line-height:38.00px;font-weight:bold;color:#000;;">233</div>
<div style="left:2853.6px;top:2964.1px;font-size:38.00px;line-height:38.00px;font-weight:bold;color:#000;;">91</div>
<div style="left:3099.2px;top:2964.1px;font-size:38.00px;line-height:38.00px;font-weight:bold;color:#000;;">59</div>
<div style="left:3360.0px;top:2964.1px;font-size:38.00px;line-height:38.00px;font-weight:normal;color:#000;letter-spacing:0.5px;">&lt;8.3</div>
<div style="left:3660.0px;top:2964.1px;font-size:38.00px;line-height:38.00px;font-weight:normal;color:#000;letter-spacing:0.5px;">&lt;10.7</div>
<div style="left:3964.8px;top:2964.1px;font-size:38.00px;line-height:38.00px;font-weight:normal;color:#000;letter-spacing:0.5px;">&lt;55.6</div>
<div style="left:2145.5px;top:3025.1px;font-size:38.00px;line-height:38.00px;font-weight:normal;color:#000;letter-spacing:0.5px;">5</div>
<div style="left:2237.0px;top:3025.1px;font-size:38.00px;line-height:38.00px;font-weight:normal;color:#000;letter-spacing:0.5px;">0.43</div>
<div style="left:2410.0px;top:3025.1px;font-size:38.00px;line-height:38.00px;font-weight:normal;color:#000;letter-spacing:0.5px;">II</div>
<div style="left:2586.3px;top:3025.1px;font-size:38.00px;line-height:38.00px;font-weight:bold;color:#000;;">166</div>
<div style="left:2853.6px;top:3025.1px;font-size:38.00px;line-height:38.00px;font-weight:bold;color:#000;;">84</div>
<div style="left:3099.2px;top:3025.1px;font-size:38.00px;line-height:38.00px;font-weight:bold;color:#000;;">52</div>
<div style="left:3360.0px;top:3025.1px;font-size:38.00px;line-height:38.00px;font-weight:normal;color:#000;letter-spacing:0.5px;">&lt;8.3</div>
<div style="left:3660.0px;top:3025.1px;font-size:38.00px;line-height:38.00px;font-weight:normal;color:#000;letter-spacing:0.5px;">&lt;10.7</div>
<div style="left:3964.8px;top:3025.1px;font-size:38.00px;line-height:38.00px;font-weight:normal;color:#000;letter-spacing:0.5px;">&lt;55.6</div>
<div style="left:2145.5px;top:3084.8px;font-size:38.00px;line-height:38.00px;font-weight:normal;color:#000;letter-spacing:0.5px;">6</div>
<div style="left:2237.0px;top:3084.8px;font-size:38.00px;line-height:38.00px;font-weight:normal;color:#000;letter-spacing:0.5px;">12.0</div>
<div style="left:2391.6px;top:3084.8px;font-size:38.00px;line-height:38.00px;font-weight:normal;color:#000;letter-spacing:0.5px;">IIIA</div>
<div style="left:2570.5px;top:3084.8px;font-size:38.00px;line-height:38.00px;font-weight:bold;color:#000;;">333.5</div>
<div style="left:2847.5px;top:3084.8px;font-size:38.00px;line-height:38.00px;font-weight:normal;color:#000;letter-spacing:0.5px;">2.1</div>
<div style="left:3093.2px;top:3084.8px;font-size:38.00px;line-height:38.00px;font-weight:normal;color:#000;letter-spacing:0.5px;">5.2</div>
<div style="left:3360.0px;top:3084.8px;font-size:38.00px;line-height:38.00px;font-weight:normal;color:#000;letter-spacing:0.5px;">&lt;1.3</div>
<div style="left:3670.8px;top:3084.8px;font-size:38.00px;line-height:38.00px;font-weight:normal;color:#000;letter-spacing:0.5px;">&lt;4.9</div>
<div style="left:3975.6px;top:3084.8px;font-size:38.00px;line-height:38.00px;font-weight:normal;color:#000;letter-spacing:0.5px;">&lt;7.3</div>
<div style="left:2145.5px;top:3145.8px;font-size:38.00px;line-height:38.00px;font-weight:normal;color:#000;letter-spacing:0.5px;">7</div>
<div style="left:2237.0px;top:3145.8px;font-size:38.00px;line-height:38.00px;font-weight:normal;color:#000;letter-spacing:0.5px;">13.0</div>
<div style="left:2391.6px;top:3145.8px;font-size:38.00px;line-height:38.00px;font-weight:normal;color:#000;letter-spacing:0.5px;">IIIB</div>
<div style="left:2596.9px;top:3145.8px;font-size:38.00px;line-height:38.00px;font-weight:bold;color:#000;;">50</div>
<div style="left:2847.5px;top:3145.8px;font-size:38.00px;line-height:38.00px;font-weight:normal;color:#000;letter-spacing:0.5px;">1.6</div>
<div style="left:3093.2px;top:3145.8px;font-size:38.00px;line-height:38.00px;font-weight:normal;color:#000;letter-spacing:0.5px;">5.6</div>
<div style="left:3360.0px;top:3145.8px;font-size:38.00px;line-height:38.00px;font-weight:normal;color:#000;letter-spacing:0.5px;">&lt;1.3</div>
<div style="left:3670.8px;top:3145.8px;font-size:38.00px;line-height:38.00px;font-weight:normal;color:#000;letter-spacing:0.5px;">&lt;4.9</div>
<div style="left:3975.6px;top:3145.8px;font-size:38.00px;line-height:38.00px;font-weight:normal;color:#000;letter-spacing:0.5px;">&lt;7.3</div>
<div style="left:2145.5px;top:3205.9px;font-size:38.00px;line-height:38.00px;font-weight:normal;color:#000;letter-spacing:0.5px;">8</div>
<div style="left:2247.8px;top:3205.9px;font-size:38.00px;line-height:38.00px;font-weight:normal;color:#000;letter-spacing:0.5px;">8.0</div>
<div style="left:2390.5px;top:3205.9px;font-size:38.00px;line-height:38.00px;font-weight:normal;color:#000;letter-spacing:0.5px;">IIIC</div>
<div style="left:2570.5px;top:3205.9px;font-size:38.00px;line-height:38.00px;font-weight:bold;color:#000;;">170.3</div>
<div style="left:2847.5px;top:3205.9px;font-size:38.00px;line-height:38.00px;font-weight:normal;color:#000;letter-spacing:0.5px;">2.2</div>
<div style="left:3093.2px;top:3205.9px;font-size:38.00px;line-height:38.00px;font-weight:normal;color:#000;letter-spacing:0.5px;">5.7</div>
<div style="left:3360.0px;top:3205.9px;font-size:38.00px;line-height:38.00px;font-weight:normal;color:#000;letter-spacing:0.5px;">&lt;1.7</div>
<div style="left:3670.8px;top:3205.9px;font-size:38.00px;line-height:38.00px;font-weight:normal;color:#000;letter-spacing:0.5px;">&lt;3.8</div>
<div style="left:3964.8px;top:3205.9px;font-size:38.00px;line-height:38.00px;font-weight:normal;color:#000;letter-spacing:0.5px;">&lt;10.3</div>
<div style="left:2145.5px;top:3266.9px;font-size:38.00px;line-height:38.00px;font-weight:normal;color:#000;letter-spacing:0.5px;">9</div>
<div style="left:2247.8px;top:3266.9px;font-size:38.00px;line-height:38.00px;font-weight:normal;color:#000;letter-spacing:0.5px;">1.0</div>
<div style="left:2402.6px;top:3266.9px;font-size:38.00px;line-height:38.00px;font-weight:normal;color:#000;letter-spacing:0.5px;">VI</div>
<div style="left:2590.8px;top:3266.9px;font-size:38.00px;line-height:38.00px;font-weight:normal;color:#000;letter-spacing:0.5px;">2.5</div>
<div style="left:2827.2px;top:3266.9px;font-size:38.00px;line-height:38.00px;font-weight:bold;color:#000;;">103.4</div>
<div style="left:3083.4px;top:3266.9px;font-size:38.00px;line-height:38.00px;font-weight:bold;color:#000;;">79.4</div>
<div style="left:3360.0px;top:3266.9px;font-size:38.00px;line-height:38.00px;font-weight:normal;color:#000;letter-spacing:0.5px;">&lt;2.4</div>
<div style="left:3670.8px;top:3266.9px;font-size:38.00px;line-height:38.00px;font-weight:normal;color:#000;letter-spacing:0.5px;">&lt;4.7</div>
<div style="left:3964.8px;top:3266.9px;font-size:38.00px;line-height:38.00px;font-weight:normal;color:#000;letter-spacing:0.5px;">&lt;18.8</div>
<div style="left:2134.7px;top:3328.4px;font-size:38.00px;line-height:38.00px;font-weight:normal;color:#000;letter-spacing:0.5px;">10</div>
<div style="left:2237.0px;top:3328.4px;font-size:38.00px;line-height:38.00px;font-weight:normal;color:#000;letter-spacing:0.5px;">13.0</div>
<div style="left:2402.6px;top:3328.4px;font-size:38.00px;line-height:38.00px;font-weight:normal;color:#000;letter-spacing:0.5px;">VI</div>
<div style="left:2590.8px;top:3328.4px;font-size:38.00px;line-height:38.00px;font-weight:normal;color:#000;letter-spacing:0.5px;">0.5</div>
<div style="left:2848.3px;top:3328.4px;font-size:38.00px;line-height:38.00px;font-weight:bold;color:#000;;">3.5</div>
<div style="left:3083.4px;top:3328.4px;font-size:38.00px;line-height:38.00px;font-weight:bold;color:#000;;">10.2</div>
<div style="left:3360.0px;top:3328.4px;font-size:38.00px;line-height:38.00px;font-weight:normal;color:#000;letter-spacing:0.5px;">&lt;1.5</div>
<div style="left:3670.8px;top:3328.4px;font-size:38.00px;line-height:38.00px;font-weight:normal;color:#000;letter-spacing:0.5px;">&lt;3.8</div>
<div style="left:3975.6px;top:3328.4px;font-size:38.00px;line-height:38.00px;font-weight:normal;color:#000;letter-spacing:0.5px;">&lt;7.3</div>
</body></html>
